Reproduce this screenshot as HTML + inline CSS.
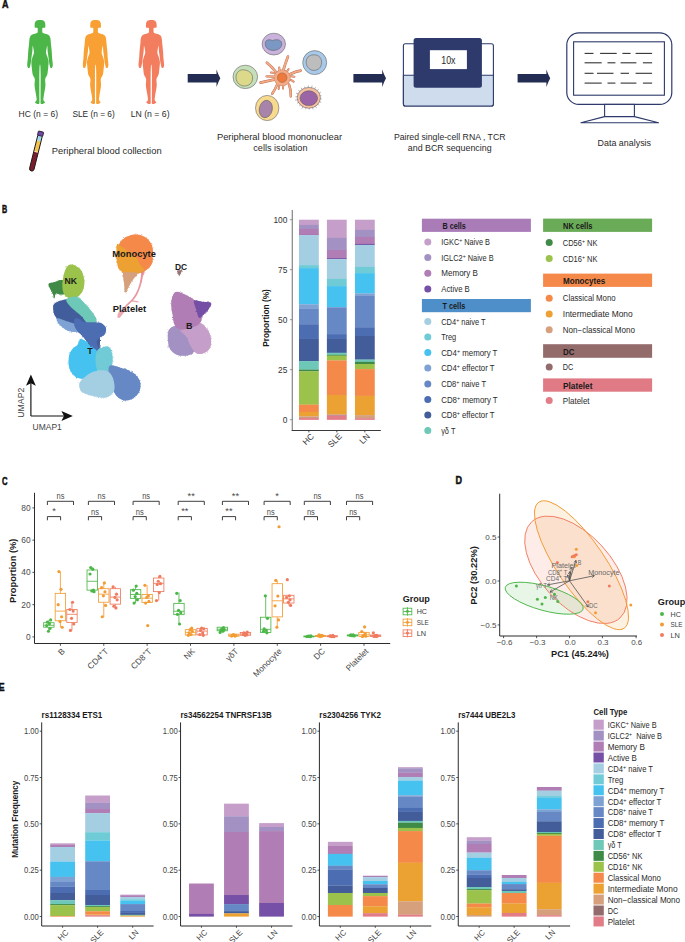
<!DOCTYPE html><html><head><meta charset="utf-8"><style>html,body{margin:0;padding:0;background:#fff;}svg{display:block;}</style></head><body>
<svg width="685" height="942" viewBox="0 0 685 942" font-family='"Liberation Sans", sans-serif'>
<rect width="685" height="942" fill="#fff"/>
<text x="2.00" y="8.00" font-size="10.5" font-weight="bold" textLength="6.50" lengthAdjust="spacingAndGlyphs" fill="#111" stroke="#111" stroke-width="0.5">A</text>
<path transform="translate(40.0,20)" d="M0.00,0.00 C0.96,0.00 2.45,0.12 3.20,0.50 C3.95,0.88 4.68,1.77 5.00,2.50 C5.32,3.23 5.33,4.64 5.35,5.40 C5.36,6.17 5.53,7.22 5.10,7.60 C4.67,7.97 2.92,7.54 2.50,7.90 C2.08,8.26 2.30,9.32 2.30,10.00 C2.30,10.68 2.08,11.83 2.50,12.40 C2.92,12.97 4.14,13.38 5.10,13.80 C6.06,14.22 8.11,14.54 8.90,15.20 C9.70,15.86 10.09,16.84 10.40,18.20 C10.71,19.56 10.80,22.30 11.00,24.30 C11.20,26.30 11.57,29.34 11.75,31.50 C11.93,33.66 12.04,36.72 12.20,38.70 C12.36,40.68 12.85,43.32 12.80,44.70 C12.76,46.08 12.28,47.49 11.90,47.90 C11.53,48.30 10.63,47.80 10.30,47.40 C9.97,46.99 9.88,45.94 9.70,45.20 C9.52,44.47 9.29,43.76 9.10,42.50 C8.90,41.24 8.62,38.60 8.40,36.80 C8.18,35.00 7.76,32.15 7.60,30.50 C7.43,28.85 7.48,25.95 7.30,25.80 C7.12,25.65 6.58,28.39 6.40,29.50 C6.22,30.61 5.95,32.11 6.10,33.20 C6.25,34.30 7.03,35.48 7.40,36.80 C7.78,38.12 8.48,40.39 8.60,42.00 C8.72,43.61 8.39,45.61 8.20,47.50 C8.00,49.39 7.75,52.88 7.30,54.60 C6.85,56.33 5.49,57.29 5.20,59.00 C4.92,60.71 5.61,63.48 5.40,66.00 C5.19,68.52 4.10,73.70 3.80,75.80 C3.50,77.90 3.22,78.98 3.40,80.00 C3.58,81.02 5.12,82.01 5.00,82.60 C4.88,83.19 3.25,83.78 2.60,83.90 C1.96,84.02 1.00,84.14 0.70,83.40 C0.40,82.67 0.61,83.26 0.60,79.00 C0.59,74.74 0.69,59.95 0.65,55.00 C0.61,50.05 0.45,47.53 0.35,46.00 C0.25,44.47 0.10,44.80 0.00,44.80 C-0.10,44.80 -0.25,44.47 -0.35,46.00 C-0.45,47.53 -0.61,50.05 -0.65,55.00 C-0.69,59.95 -0.59,74.74 -0.60,79.00 C-0.61,83.26 -0.40,82.67 -0.70,83.40 C-1.00,84.14 -1.96,84.02 -2.60,83.90 C-3.25,83.78 -4.88,83.19 -5.00,82.60 C-5.12,82.01 -3.58,81.02 -3.40,80.00 C-3.22,78.98 -3.50,77.90 -3.80,75.80 C-4.10,73.70 -5.19,68.52 -5.40,66.00 C-5.61,63.48 -4.92,60.71 -5.20,59.00 C-5.49,57.29 -6.85,56.33 -7.30,54.60 C-7.75,52.88 -8.00,49.39 -8.20,47.50 C-8.39,45.61 -8.72,43.61 -8.60,42.00 C-8.48,40.39 -7.78,38.12 -7.40,36.80 C-7.03,35.48 -6.25,34.30 -6.10,33.20 C-5.95,32.11 -6.22,30.61 -6.40,29.50 C-6.58,28.39 -7.12,25.65 -7.30,25.80 C-7.48,25.95 -7.43,28.85 -7.60,30.50 C-7.76,32.15 -8.18,35.00 -8.40,36.80 C-8.62,38.60 -8.90,41.24 -9.10,42.50 C-9.29,43.76 -9.52,44.47 -9.70,45.20 C-9.88,45.94 -9.97,46.99 -10.30,47.40 C-10.63,47.80 -11.53,48.30 -11.90,47.90 C-12.28,47.49 -12.76,46.08 -12.80,44.70 C-12.85,43.32 -12.36,40.68 -12.20,38.70 C-12.04,36.72 -11.93,33.66 -11.75,31.50 C-11.57,29.34 -11.20,26.30 -11.00,24.30 C-10.80,22.30 -10.71,19.56 -10.40,18.20 C-10.09,16.84 -9.70,15.86 -8.90,15.20 C-8.11,14.54 -6.06,14.22 -5.10,13.80 C-4.14,13.38 -2.92,12.97 -2.50,12.40 C-2.08,11.83 -2.30,10.68 -2.30,10.00 C-2.30,9.32 -2.08,8.26 -2.50,7.90 C-2.92,7.54 -4.67,7.97 -5.10,7.60 C-5.53,7.22 -5.36,6.17 -5.35,5.40 C-5.33,4.64 -5.32,3.23 -5.00,2.50 C-4.68,1.77 -3.95,0.88 -3.20,0.50 C-2.45,0.12 -0.96,0.00 0.00,0.00Z" fill="#4cb748"/>
<path transform="translate(95.6,20)" d="M0.00,0.00 C0.96,0.00 2.45,0.12 3.20,0.50 C3.95,0.88 4.68,1.77 5.00,2.50 C5.32,3.23 5.33,4.64 5.35,5.40 C5.36,6.17 5.53,7.22 5.10,7.60 C4.67,7.97 2.92,7.54 2.50,7.90 C2.08,8.26 2.30,9.32 2.30,10.00 C2.30,10.68 2.08,11.83 2.50,12.40 C2.92,12.97 4.14,13.38 5.10,13.80 C6.06,14.22 8.11,14.54 8.90,15.20 C9.70,15.86 10.09,16.84 10.40,18.20 C10.71,19.56 10.80,22.30 11.00,24.30 C11.20,26.30 11.57,29.34 11.75,31.50 C11.93,33.66 12.04,36.72 12.20,38.70 C12.36,40.68 12.85,43.32 12.80,44.70 C12.76,46.08 12.28,47.49 11.90,47.90 C11.53,48.30 10.63,47.80 10.30,47.40 C9.97,46.99 9.88,45.94 9.70,45.20 C9.52,44.47 9.29,43.76 9.10,42.50 C8.90,41.24 8.62,38.60 8.40,36.80 C8.18,35.00 7.76,32.15 7.60,30.50 C7.43,28.85 7.48,25.95 7.30,25.80 C7.12,25.65 6.58,28.39 6.40,29.50 C6.22,30.61 5.95,32.11 6.10,33.20 C6.25,34.30 7.03,35.48 7.40,36.80 C7.78,38.12 8.48,40.39 8.60,42.00 C8.72,43.61 8.39,45.61 8.20,47.50 C8.00,49.39 7.75,52.88 7.30,54.60 C6.85,56.33 5.49,57.29 5.20,59.00 C4.92,60.71 5.61,63.48 5.40,66.00 C5.19,68.52 4.10,73.70 3.80,75.80 C3.50,77.90 3.22,78.98 3.40,80.00 C3.58,81.02 5.12,82.01 5.00,82.60 C4.88,83.19 3.25,83.78 2.60,83.90 C1.96,84.02 1.00,84.14 0.70,83.40 C0.40,82.67 0.61,83.26 0.60,79.00 C0.59,74.74 0.69,59.95 0.65,55.00 C0.61,50.05 0.45,47.53 0.35,46.00 C0.25,44.47 0.10,44.80 0.00,44.80 C-0.10,44.80 -0.25,44.47 -0.35,46.00 C-0.45,47.53 -0.61,50.05 -0.65,55.00 C-0.69,59.95 -0.59,74.74 -0.60,79.00 C-0.61,83.26 -0.40,82.67 -0.70,83.40 C-1.00,84.14 -1.96,84.02 -2.60,83.90 C-3.25,83.78 -4.88,83.19 -5.00,82.60 C-5.12,82.01 -3.58,81.02 -3.40,80.00 C-3.22,78.98 -3.50,77.90 -3.80,75.80 C-4.10,73.70 -5.19,68.52 -5.40,66.00 C-5.61,63.48 -4.92,60.71 -5.20,59.00 C-5.49,57.29 -6.85,56.33 -7.30,54.60 C-7.75,52.88 -8.00,49.39 -8.20,47.50 C-8.39,45.61 -8.72,43.61 -8.60,42.00 C-8.48,40.39 -7.78,38.12 -7.40,36.80 C-7.03,35.48 -6.25,34.30 -6.10,33.20 C-5.95,32.11 -6.22,30.61 -6.40,29.50 C-6.58,28.39 -7.12,25.65 -7.30,25.80 C-7.48,25.95 -7.43,28.85 -7.60,30.50 C-7.76,32.15 -8.18,35.00 -8.40,36.80 C-8.62,38.60 -8.90,41.24 -9.10,42.50 C-9.29,43.76 -9.52,44.47 -9.70,45.20 C-9.88,45.94 -9.97,46.99 -10.30,47.40 C-10.63,47.80 -11.53,48.30 -11.90,47.90 C-12.28,47.49 -12.76,46.08 -12.80,44.70 C-12.85,43.32 -12.36,40.68 -12.20,38.70 C-12.04,36.72 -11.93,33.66 -11.75,31.50 C-11.57,29.34 -11.20,26.30 -11.00,24.30 C-10.80,22.30 -10.71,19.56 -10.40,18.20 C-10.09,16.84 -9.70,15.86 -8.90,15.20 C-8.11,14.54 -6.06,14.22 -5.10,13.80 C-4.14,13.38 -2.92,12.97 -2.50,12.40 C-2.08,11.83 -2.30,10.68 -2.30,10.00 C-2.30,9.32 -2.08,8.26 -2.50,7.90 C-2.92,7.54 -4.67,7.97 -5.10,7.60 C-5.53,7.22 -5.36,6.17 -5.35,5.40 C-5.33,4.64 -5.32,3.23 -5.00,2.50 C-4.68,1.77 -3.95,0.88 -3.20,0.50 C-2.45,0.12 -0.96,0.00 0.00,0.00Z" fill="#f8a033"/>
<path transform="translate(151.3,20)" d="M0.00,0.00 C0.96,0.00 2.45,0.12 3.20,0.50 C3.95,0.88 4.68,1.77 5.00,2.50 C5.32,3.23 5.33,4.64 5.35,5.40 C5.36,6.17 5.53,7.22 5.10,7.60 C4.67,7.97 2.92,7.54 2.50,7.90 C2.08,8.26 2.30,9.32 2.30,10.00 C2.30,10.68 2.08,11.83 2.50,12.40 C2.92,12.97 4.14,13.38 5.10,13.80 C6.06,14.22 8.11,14.54 8.90,15.20 C9.70,15.86 10.09,16.84 10.40,18.20 C10.71,19.56 10.80,22.30 11.00,24.30 C11.20,26.30 11.57,29.34 11.75,31.50 C11.93,33.66 12.04,36.72 12.20,38.70 C12.36,40.68 12.85,43.32 12.80,44.70 C12.76,46.08 12.28,47.49 11.90,47.90 C11.53,48.30 10.63,47.80 10.30,47.40 C9.97,46.99 9.88,45.94 9.70,45.20 C9.52,44.47 9.29,43.76 9.10,42.50 C8.90,41.24 8.62,38.60 8.40,36.80 C8.18,35.00 7.76,32.15 7.60,30.50 C7.43,28.85 7.48,25.95 7.30,25.80 C7.12,25.65 6.58,28.39 6.40,29.50 C6.22,30.61 5.95,32.11 6.10,33.20 C6.25,34.30 7.03,35.48 7.40,36.80 C7.78,38.12 8.48,40.39 8.60,42.00 C8.72,43.61 8.39,45.61 8.20,47.50 C8.00,49.39 7.75,52.88 7.30,54.60 C6.85,56.33 5.49,57.29 5.20,59.00 C4.92,60.71 5.61,63.48 5.40,66.00 C5.19,68.52 4.10,73.70 3.80,75.80 C3.50,77.90 3.22,78.98 3.40,80.00 C3.58,81.02 5.12,82.01 5.00,82.60 C4.88,83.19 3.25,83.78 2.60,83.90 C1.96,84.02 1.00,84.14 0.70,83.40 C0.40,82.67 0.61,83.26 0.60,79.00 C0.59,74.74 0.69,59.95 0.65,55.00 C0.61,50.05 0.45,47.53 0.35,46.00 C0.25,44.47 0.10,44.80 0.00,44.80 C-0.10,44.80 -0.25,44.47 -0.35,46.00 C-0.45,47.53 -0.61,50.05 -0.65,55.00 C-0.69,59.95 -0.59,74.74 -0.60,79.00 C-0.61,83.26 -0.40,82.67 -0.70,83.40 C-1.00,84.14 -1.96,84.02 -2.60,83.90 C-3.25,83.78 -4.88,83.19 -5.00,82.60 C-5.12,82.01 -3.58,81.02 -3.40,80.00 C-3.22,78.98 -3.50,77.90 -3.80,75.80 C-4.10,73.70 -5.19,68.52 -5.40,66.00 C-5.61,63.48 -4.92,60.71 -5.20,59.00 C-5.49,57.29 -6.85,56.33 -7.30,54.60 C-7.75,52.88 -8.00,49.39 -8.20,47.50 C-8.39,45.61 -8.72,43.61 -8.60,42.00 C-8.48,40.39 -7.78,38.12 -7.40,36.80 C-7.03,35.48 -6.25,34.30 -6.10,33.20 C-5.95,32.11 -6.22,30.61 -6.40,29.50 C-6.58,28.39 -7.12,25.65 -7.30,25.80 C-7.48,25.95 -7.43,28.85 -7.60,30.50 C-7.76,32.15 -8.18,35.00 -8.40,36.80 C-8.62,38.60 -8.90,41.24 -9.10,42.50 C-9.29,43.76 -9.52,44.47 -9.70,45.20 C-9.88,45.94 -9.97,46.99 -10.30,47.40 C-10.63,47.80 -11.53,48.30 -11.90,47.90 C-12.28,47.49 -12.76,46.08 -12.80,44.70 C-12.85,43.32 -12.36,40.68 -12.20,38.70 C-12.04,36.72 -11.93,33.66 -11.75,31.50 C-11.57,29.34 -11.20,26.30 -11.00,24.30 C-10.80,22.30 -10.71,19.56 -10.40,18.20 C-10.09,16.84 -9.70,15.86 -8.90,15.20 C-8.11,14.54 -6.06,14.22 -5.10,13.80 C-4.14,13.38 -2.92,12.97 -2.50,12.40 C-2.08,11.83 -2.30,10.68 -2.30,10.00 C-2.30,9.32 -2.08,8.26 -2.50,7.90 C-2.92,7.54 -4.67,7.97 -5.10,7.60 C-5.53,7.22 -5.36,6.17 -5.35,5.40 C-5.33,4.64 -5.32,3.23 -5.00,2.50 C-4.68,1.77 -3.95,0.88 -3.20,0.50 C-2.45,0.12 -0.96,0.00 0.00,0.00Z" fill="#f27d5f"/>
<text x="18.60" y="116.70" font-size="9.3" textLength="39.4" lengthAdjust="spacingAndGlyphs" fill="#2a2a2a" >HC (n = 6)</text>
<text x="72.40" y="116.70" font-size="9.3" textLength="42.4" lengthAdjust="spacingAndGlyphs" fill="#2a2a2a" >SLE (n = 6)</text>
<text x="130.70" y="116.70" font-size="9.3" textLength="38.9" lengthAdjust="spacingAndGlyphs" fill="#2a2a2a" >LN (n = 6)</text>
<g transform="translate(41.1,131.6) rotate(14)">
<path d="M-2.3,21 L2.3,21 L2.3,38.3 A2.3,2.3 0 0 1 -2.3,38.3 Z" fill="#7a1c2c"/>
<rect x="-2.3" y="9.6" width="4.6" height="11.4" fill="#f5c24f"/>
<rect x="-2.3" y="20.4" width="4.6" height="0.9" fill="#f4e9c8"/>
<rect x="-2.3" y="4.2" width="4.6" height="5.4" fill="#a9d5ea"/>
<rect x="-2.7" y="0" width="5.4" height="4.3" rx="0.6" fill="#7444ae" stroke="#1a1a1a" stroke-width="0.8"/>
<path d="M-2.3,4.3 L-2.3,38.3 A2.3,2.3 0 0 0 2.3,38.3 L2.3,4.3" fill="none" stroke="#1a1a1a" stroke-width="0.9"/>
</g>
<text x="51.80" y="154.00" font-size="9.3" textLength="109.8" lengthAdjust="spacingAndGlyphs" fill="#2a2a2a" >Peripheral blood collection</text>
<path d="M187.7,74 L216.5,74 L216.5,69.4 Q218.2,74.5 220.29999999999998,78.2 Q218.2,82 216.5,87.1 L216.5,82.5 L187.7,82.5 Z" fill="#232c52"/>
<path d="M353.4,74 L382.2,74 L382.2,69.4 Q383.9,74.5 386.0,78.2 Q383.9,82 382.2,87.1 L382.2,82.5 L353.4,82.5 Z" fill="#232c52"/>
<path d="M517.6,74 L546.4,74 L546.4,69.4 Q548.1,74.5 550.2,78.2 Q548.1,82 546.4,87.1 L546.4,82.5 L517.6,82.5 Z" fill="#232c52"/>
<ellipse cx="273.8" cy="44.1" rx="11.7" ry="10.9" fill="#c9b2dc" stroke="#5a5a5a" stroke-width="0.55"/>
<path d="M265.3,43.2 C265.5,39.5 269.5,39.0 272.5,40.6 C275.5,39.0 281.5,39.2 281.8,43.6 C282.0,48.0 277.5,50.6 273.0,50.4 C268.0,50.2 265.1,47.5 265.3,43.2 Z" fill="#7b98c4" stroke="#5a5a5a" stroke-width="0.55"/>
<circle cx="314.7" cy="62.6" r="12" fill="#a8c9e8" stroke="#5a5a5a" stroke-width="0.55"/>
<path d="M306.2,61.0 C306.8,56.5 310.5,54.6 314.6,54.8 C319.3,55.1 321.8,58.5 321.6,62.6 C321.4,67.5 318.2,70.4 313.8,70.4 C309.0,70.3 305.8,66.0 306.2,61.0 Z" fill="#bdbdbd" stroke="#5a5a5a" stroke-width="0.55"/>
<ellipse cx="245.3" cy="76.9" rx="12.3" ry="11.7" fill="#c4dfb9" stroke="#5a5a5a" stroke-width="0.55"/>
<path d="M236.0,76.5 C236.5,72.0 239.8,69.5 243.5,69.8 C248.5,70.2 252.6,72.8 252.6,78.0 C252.5,83.5 248.5,86.0 244.3,86.0 C239.0,85.8 235.6,81.5 236.0,76.5 Z" fill="#dcd98a" stroke="#5a5a5a" stroke-width="0.55"/>
<ellipse cx="267.2" cy="108" rx="11.7" ry="12.6" fill="#f7da8f" stroke="#5a5a5a" stroke-width="0.55"/>
<ellipse cx="265.8" cy="109" rx="6.5" ry="8.8" transform="rotate(12 265.8 109)" fill="#a884aa" stroke="#5a5a5a" stroke-width="0.55"/>
<ellipse cx="308.8" cy="97.8" rx="11.6" ry="10.4" fill="#f7c1a2" stroke="#5a5a5a" stroke-width="0.55"/>
<line x1="320.14" y1="98.82" x2="321.82" y2="98.99" stroke="#6a6a6a" stroke-width="0.5"/>
<line x1="319.36" y1="101.64" x2="321.27" y2="102.41" stroke="#6a6a6a" stroke-width="0.5"/>
<line x1="317.73" y1="104.14" x2="319.17" y2="105.29" stroke="#6a6a6a" stroke-width="0.5"/>
<line x1="315.37" y1="106.14" x2="316.59" y2="107.87" stroke="#6a6a6a" stroke-width="0.5"/>
<line x1="312.48" y1="107.45" x2="313.17" y2="109.49" stroke="#6a6a6a" stroke-width="0.5"/>
<line x1="309.29" y1="107.99" x2="309.35" y2="109.47" stroke="#6a6a6a" stroke-width="0.5"/>
<line x1="306.06" y1="107.70" x2="305.72" y2="109.08" stroke="#6a6a6a" stroke-width="0.5"/>
<line x1="303.05" y1="106.61" x2="301.84" y2="108.69" stroke="#6a6a6a" stroke-width="0.5"/>
<line x1="300.51" y1="104.80" x2="299.27" y2="105.98" stroke="#6a6a6a" stroke-width="0.5"/>
<line x1="298.64" y1="102.43" x2="297.14" y2="103.19" stroke="#6a6a6a" stroke-width="0.5"/>
<line x1="297.60" y1="99.68" x2="295.05" y2="100.16" stroke="#6a6a6a" stroke-width="0.5"/>
<line x1="297.46" y1="96.78" x2="295.50" y2="96.59" stroke="#6a6a6a" stroke-width="0.5"/>
<line x1="298.24" y1="93.96" x2="296.01" y2="93.06" stroke="#6a6a6a" stroke-width="0.5"/>
<line x1="299.87" y1="91.46" x2="298.33" y2="90.23" stroke="#6a6a6a" stroke-width="0.5"/>
<line x1="302.23" y1="89.46" x2="300.98" y2="87.69" stroke="#6a6a6a" stroke-width="0.5"/>
<line x1="305.12" y1="88.15" x2="304.61" y2="86.65" stroke="#6a6a6a" stroke-width="0.5"/>
<line x1="308.31" y1="87.61" x2="308.22" y2="85.45" stroke="#6a6a6a" stroke-width="0.5"/>
<line x1="311.54" y1="87.90" x2="312.13" y2="85.53" stroke="#6a6a6a" stroke-width="0.5"/>
<line x1="314.55" y1="88.99" x2="315.57" y2="87.24" stroke="#6a6a6a" stroke-width="0.5"/>
<line x1="317.09" y1="90.80" x2="318.75" y2="89.22" stroke="#6a6a6a" stroke-width="0.5"/>
<line x1="318.96" y1="93.17" x2="320.92" y2="92.17" stroke="#6a6a6a" stroke-width="0.5"/>
<line x1="320.00" y1="95.92" x2="321.46" y2="95.65" stroke="#6a6a6a" stroke-width="0.5"/>
<ellipse cx="308.8" cy="98.2" rx="8.8" ry="7.4" fill="#9a64a6" stroke="#5a5a5a" stroke-width="0.55"/>
<path d="M283.4,70 Q285.5,63 287.9,56.6" stroke="#b87055" stroke-width="2.7" stroke-linecap="round" fill="none"/>
<path d="M275.5,71.5 Q271,66 266.9,62.8" stroke="#b87055" stroke-width="2.7" stroke-linecap="round" fill="none"/>
<path d="M290.5,74 Q295.5,71.5 300.6,70.6" stroke="#b87055" stroke-width="2.7" stroke-linecap="round" fill="none"/>
<path d="M274,79.6 Q267,81 260.6,82.6" stroke="#b87055" stroke-width="2.7" stroke-linecap="round" fill="none"/>
<path d="M274.5,76.6 L266.6,76.3" stroke="#b87055" stroke-width="2.3" stroke-linecap="round" fill="none"/>
<path d="M277.2,84.5 Q274.8,90 272.2,93.8" stroke="#b87055" stroke-width="2.5" stroke-linecap="round" fill="none"/>
<path d="M289,84.5 Q291.3,90 290.8,96.4" stroke="#b87055" stroke-width="2.5" stroke-linecap="round" fill="none"/>
<path d="M279.6,70.5 L279.2,67.4" stroke="#b87055" stroke-width="2.0" stroke-linecap="round" fill="none"/>
<path d="M287.2,71.2 L288.6,69.0" stroke="#b87055" stroke-width="2.0" stroke-linecap="round" fill="none"/>
<path d="M290.8,79.8 L293.6,81.6" stroke="#b87055" stroke-width="2.0" stroke-linecap="round" fill="none"/>
<path d="M291.2,76.2 L294.4,76.8" stroke="#b87055" stroke-width="2.0" stroke-linecap="round" fill="none"/>
<path d="M275.2,73.2 L271.0,72.6" stroke="#b87055" stroke-width="2.0" stroke-linecap="round" fill="none"/>
<path d="M279.2,86.0 L278.6,89.0" stroke="#b87055" stroke-width="2.0" stroke-linecap="round" fill="none"/>
<path d="M283.2,86.0 L283.0,88.6" stroke="#b87055" stroke-width="2.0" stroke-linecap="round" fill="none"/>
<circle cx="282.2" cy="77.8" r="8.3" fill="#b87055"/>
<path d="M283.4,70 Q285.5,63 287.9,56.6" stroke="#f4ab85" stroke-width="1.9" stroke-linecap="round" fill="none"/>
<path d="M275.5,71.5 Q271,66 266.9,62.8" stroke="#f4ab85" stroke-width="1.9" stroke-linecap="round" fill="none"/>
<path d="M290.5,74 Q295.5,71.5 300.6,70.6" stroke="#f4ab85" stroke-width="1.9" stroke-linecap="round" fill="none"/>
<path d="M274,79.6 Q267,81 260.6,82.6" stroke="#f4ab85" stroke-width="1.9" stroke-linecap="round" fill="none"/>
<path d="M274.5,76.6 L266.6,76.3" stroke="#f4ab85" stroke-width="1.5" stroke-linecap="round" fill="none"/>
<path d="M277.2,84.5 Q274.8,90 272.2,93.8" stroke="#f4ab85" stroke-width="1.7" stroke-linecap="round" fill="none"/>
<path d="M289,84.5 Q291.3,90 290.8,96.4" stroke="#f4ab85" stroke-width="1.7" stroke-linecap="round" fill="none"/>
<path d="M279.6,70.5 L279.2,67.4" stroke="#f4ab85" stroke-width="1.2" stroke-linecap="round" fill="none"/>
<path d="M287.2,71.2 L288.6,69.0" stroke="#f4ab85" stroke-width="1.2" stroke-linecap="round" fill="none"/>
<path d="M290.8,79.8 L293.6,81.6" stroke="#f4ab85" stroke-width="1.2" stroke-linecap="round" fill="none"/>
<path d="M291.2,76.2 L294.4,76.8" stroke="#f4ab85" stroke-width="1.2" stroke-linecap="round" fill="none"/>
<path d="M275.2,73.2 L271.0,72.6" stroke="#f4ab85" stroke-width="1.2" stroke-linecap="round" fill="none"/>
<path d="M279.2,86.0 L278.6,89.0" stroke="#f4ab85" stroke-width="1.2" stroke-linecap="round" fill="none"/>
<path d="M283.2,86.0 L283.0,88.6" stroke="#f4ab85" stroke-width="1.2" stroke-linecap="round" fill="none"/>
<circle cx="282.2" cy="77.8" r="7.9" fill="#f4ab85"/>
<circle cx="282.2" cy="77.7" r="4.8" fill="#ec7a3c" stroke="#8a5a40" stroke-width="0.45"/>
<text x="279.50" y="140.20" font-size="9.3" text-anchor="middle" textLength="125.2" lengthAdjust="spacingAndGlyphs" fill="#2a2a2a" >Peripheral blood mononuclear</text>
<text x="280.40" y="151.20" font-size="9.3" text-anchor="middle" textLength="54.2" lengthAdjust="spacingAndGlyphs" fill="#2a2a2a" >cells isolation</text>
<rect x="403.4" y="43.8" width="90" height="62.2" rx="2" fill="#fff" stroke="#2d3a6b" stroke-width="1.1"/>
<path d="M403.4,75.2 L493.4,75.2 L493.4,104 Q493.4,106 491.4,106 L405.4,106 Q403.4,106 403.4,104 Z" fill="#cfdcee" stroke="#2d3a6b" stroke-width="1.1"/>
<rect x="413.6" y="37.9" width="68.3" height="49.9" rx="2.5" fill="#2d3a6b"/>
<rect x="429.9" y="50.2" width="37" height="18.9" fill="#fff"/>
<text x="448.40" y="63.60" font-size="10.0" text-anchor="middle" textLength="14.3" lengthAdjust="spacingAndGlyphs" fill="#2a2a2a" >10x</text>
<text x="449.70" y="140.30" font-size="9.3" text-anchor="middle" textLength="111.6" lengthAdjust="spacingAndGlyphs" fill="#2a2a2a" >Paired single-cell RNA , TCR</text>
<text x="449.70" y="151.20" font-size="9.3" text-anchor="middle" textLength="83.8" lengthAdjust="spacingAndGlyphs" fill="#2a2a2a" >and BCR sequencing</text>
<rect x="566.8" y="32.8" width="105" height="71.6" rx="12" fill="#fff" stroke="#2d3a6b" stroke-width="1.2"/>
<rect x="573.6" y="41.8" width="90.8" height="53.4" fill="#fff" stroke="#2d3a6b" stroke-width="1.1"/>
<rect x="604.6" y="104.4" width="29.8" height="12.2" fill="#fff" stroke="#2d3a6b" stroke-width="1.1"/>
<path d="M604.6,116.6 L634.4,116.6 L658.5,122.8 L580.9,122.8 Z" fill="#fff" stroke="#2d3a6b" stroke-width="1.1" stroke-linejoin="round"/>
<line x1="584.6" y1="53.4" x2="593.5" y2="53.4" stroke="#333" stroke-width="1.1"/>
<line x1="600.1" y1="53.4" x2="616.7" y2="53.4" stroke="#333" stroke-width="1.1"/>
<line x1="622.4" y1="53.4" x2="630.6" y2="53.4" stroke="#333" stroke-width="1.1"/>
<line x1="635.6" y1="53.4" x2="652.1" y2="53.4" stroke="#333" stroke-width="1.1"/>
<line x1="584.6" y1="62.8" x2="601.7" y2="62.8" stroke="#333" stroke-width="1.1"/>
<line x1="607.5" y1="62.8" x2="615.4" y2="62.8" stroke="#333" stroke-width="1.1"/>
<line x1="620.6" y1="62.8" x2="636.4" y2="62.8" stroke="#333" stroke-width="1.1"/>
<line x1="642.9" y1="62.8" x2="652.1" y2="62.8" stroke="#333" stroke-width="1.1"/>
<line x1="584.6" y1="73.3" x2="593.5" y2="73.3" stroke="#333" stroke-width="1.1"/>
<line x1="597.0" y1="73.3" x2="613.5" y2="73.3" stroke="#333" stroke-width="1.1"/>
<line x1="620.6" y1="73.3" x2="629.0" y2="73.3" stroke="#333" stroke-width="1.1"/>
<line x1="635.6" y1="73.3" x2="652.1" y2="73.3" stroke="#333" stroke-width="1.1"/>
<line x1="584.6" y1="83.1" x2="601.7" y2="83.1" stroke="#333" stroke-width="1.1"/>
<line x1="607.5" y1="83.1" x2="615.4" y2="83.1" stroke="#333" stroke-width="1.1"/>
<line x1="620.6" y1="83.1" x2="636.4" y2="83.1" stroke="#333" stroke-width="1.1"/>
<line x1="642.9" y1="83.1" x2="652.1" y2="83.1" stroke="#333" stroke-width="1.1"/>
<text x="624.30" y="145.60" font-size="9.3" text-anchor="middle" textLength="53.5" lengthAdjust="spacingAndGlyphs" fill="#2a2a2a" >Data analysis</text>
<text x="2.00" y="212.90" font-size="10.5" font-weight="bold" textLength="5.20" lengthAdjust="spacingAndGlyphs" fill="#111" stroke="#111" stroke-width="0.5">B</text>
<defs>
<filter id="rough" x="-30%" y="-30%" width="160%" height="160%">
<feTurbulence type="fractalNoise" baseFrequency="1.8" numOctaves="2" seed="4" result="n"/>
<feDisplacementMap in="SourceGraphic" in2="n" scale="1.8" xChannelSelector="R" yChannelSelector="G" result="d"/>
<feGaussianBlur in="d" stdDeviation="0.6"/>
</filter>
<filter id="fuzz" x="-30%" y="-30%" width="160%" height="160%">
<feTurbulence type="fractalNoise" baseFrequency="2.2" numOctaves="1" seed="11" result="n"/>
<feDisplacementMap in="SourceGraphic" in2="n" scale="5" xChannelSelector="R" yChannelSelector="G"/>
</filter>
</defs>
<g filter="url(#fuzz)" opacity="0.55">
<path d="M48.60,283.90 C49.30,282.72 52.55,282.75 54.60,282.10 C56.65,281.45 59.00,280.18 60.90,280.00 C62.80,279.82 65.07,279.00 66.00,281.00 C66.93,283.00 67.35,289.75 66.50,292.00 C65.65,294.25 62.63,294.23 60.90,294.50 C59.17,294.77 57.22,292.93 56.10,293.60 C54.98,294.27 54.75,298.52 54.20,298.50 C53.65,298.48 53.43,295.05 52.80,293.50 C52.17,291.95 51.10,290.80 50.40,289.20 C49.70,287.60 47.90,285.08 48.60,283.90Z" fill="#3f8a46" fill-opacity="1.0"/>
<path d="M71.30,264.60 C73.42,264.73 77.18,266.45 79.20,268.30 C81.22,270.15 82.55,273.13 83.40,275.70 C84.25,278.27 84.43,281.18 84.30,283.70 C84.17,286.22 83.68,288.62 82.60,290.80 C81.52,292.98 79.82,295.50 77.80,296.80 C75.78,298.10 72.78,299.03 70.50,298.60 C68.22,298.17 65.47,296.42 64.10,294.20 C62.73,291.98 62.38,288.38 62.30,285.30 C62.22,282.22 62.90,278.67 63.60,275.70 C64.30,272.73 65.22,269.35 66.50,267.50 C67.78,265.65 69.18,264.47 71.30,264.60Z" fill="#9bc24b" fill-opacity="1.0"/>
<path d="M54.20,304.00 C55.48,302.58 58.35,301.33 60.90,300.60 C63.45,299.87 66.73,298.62 69.50,299.60 C72.27,300.58 74.62,304.02 77.50,306.50 C80.38,308.98 84.13,312.08 86.80,314.50 C89.47,316.92 91.55,318.45 93.50,321.00 C95.45,323.55 97.42,326.47 98.50,329.80 C99.58,333.13 100.00,337.05 100.00,341.00 C100.00,344.95 99.70,351.25 98.50,353.50 C97.30,355.75 94.63,356.25 92.80,354.50 C90.97,352.75 89.43,346.33 87.50,343.00 C85.57,339.67 83.77,337.00 81.20,334.50 C78.63,332.00 75.48,330.17 72.10,328.00 C68.72,325.83 63.75,323.50 60.90,321.50 C58.05,319.50 56.28,318.07 55.00,316.00 C53.72,313.93 53.33,311.10 53.20,309.10 C53.07,307.10 52.92,305.42 54.20,304.00Z" fill="#435d9b" fill-opacity="1.0"/>
<path d="M67.50,298.40 C69.20,297.53 74.05,295.87 77.00,296.80 C79.95,297.73 82.50,301.22 85.20,304.00 C87.90,306.78 91.30,310.78 93.20,313.50 C95.10,316.22 96.57,318.25 96.60,320.30 C96.63,322.35 94.83,325.15 93.40,325.80 C91.97,326.45 90.03,325.83 88.00,324.20 C85.97,322.57 83.85,318.67 81.20,316.00 C78.55,313.33 74.50,310.53 72.10,308.20 C69.70,305.87 67.57,303.63 66.80,302.00 C66.03,300.37 65.80,299.27 67.50,298.40Z" fill="#6ec8b8" fill-opacity="1.0"/>
<path d="M57.20,318.40 C58.58,317.98 64.03,320.43 67.30,321.50 C70.57,322.57 74.32,323.42 76.80,324.80 C79.28,326.18 82.17,328.60 82.20,329.80 C82.23,331.00 79.48,331.88 77.00,332.00 C74.52,332.12 70.30,331.83 67.30,330.50 C64.30,329.17 60.68,326.02 59.00,324.00 C57.32,321.98 55.82,318.82 57.20,318.40Z" fill="#7ea2d3" fill-opacity="1.0"/>
<path d="M76.10,317.90 C77.90,317.63 82.02,321.18 84.80,321.90 C87.58,322.62 90.15,322.02 92.80,322.20 C95.45,322.38 98.53,322.12 100.70,323.00 C102.87,323.88 105.08,325.67 105.80,327.50 C106.52,329.33 105.97,332.33 105.00,334.00 C104.03,335.67 101.42,336.17 100.00,337.50 C98.58,338.83 96.70,340.00 96.50,342.00 C96.30,344.00 99.15,347.92 98.80,349.50 C98.45,351.08 96.00,352.33 94.40,351.50 C92.80,350.67 91.10,347.00 89.20,344.50 C87.30,342.00 85.12,338.92 83.00,336.50 C80.88,334.08 78.00,332.17 76.50,330.00 C75.00,327.83 74.07,325.52 74.00,323.50 C73.93,321.48 74.30,318.17 76.10,317.90Z" fill="#4d6db3" fill-opacity="1.0"/>
<path d="M80.50,339.00 C81.67,338.92 84.25,340.25 86.00,341.50 C87.75,342.75 89.25,345.00 91.00,346.50 C92.75,348.00 95.13,348.58 96.50,350.50 C97.87,352.42 98.92,355.08 99.20,358.00 C99.48,360.92 99.23,365.03 98.20,368.00 C97.17,370.97 95.37,374.00 93.00,375.80 C90.63,377.60 87.00,378.73 84.00,378.80 C81.00,378.87 77.45,378.00 75.00,376.20 C72.55,374.40 70.30,371.37 69.30,368.00 C68.30,364.63 68.47,359.17 69.00,356.00 C69.53,352.83 71.17,350.75 72.50,349.00 C73.83,347.25 75.92,346.67 77.00,345.50 C78.08,344.33 78.42,343.08 79.00,342.00 C79.58,340.92 79.33,339.08 80.50,339.00Z" fill="#45c2ef" fill-opacity="1.0"/>
<path d="M98.00,349.50 C100.20,347.30 106.27,345.57 108.70,346.80 C111.13,348.03 112.18,353.28 112.60,356.90 C113.02,360.52 112.30,365.65 111.20,368.50 C110.10,371.35 108.20,373.50 106.00,374.00 C103.80,374.50 99.75,373.83 98.00,371.50 C96.25,369.17 95.50,363.67 95.50,360.00 C95.50,356.33 95.80,351.70 98.00,349.50Z" fill="#6fcbd6" fill-opacity="1.0"/>
<path d="M109.50,366.00 C111.22,364.27 115.92,366.53 119.80,367.60 C123.68,368.67 129.47,370.20 132.80,372.40 C136.13,374.60 138.63,377.77 139.80,380.80 C140.97,383.83 140.67,387.87 139.80,390.60 C138.93,393.33 136.87,395.53 134.60,397.20 C132.33,398.87 129.00,400.60 126.20,400.60 C123.40,400.60 120.08,399.13 117.80,397.20 C115.52,395.27 113.88,392.20 112.50,389.00 C111.12,385.80 110.00,381.83 109.50,378.00 C109.00,374.17 107.78,367.73 109.50,366.00Z" fill="#6689c5" fill-opacity="1.0"/>
<path d="M81.00,380.50 C83.17,377.97 88.42,373.67 92.50,372.00 C96.58,370.33 102.17,369.67 105.50,370.50 C108.83,371.33 111.05,373.68 112.50,377.00 C113.95,380.32 115.28,387.00 114.20,390.40 C113.12,393.80 109.57,396.47 106.00,397.40 C102.43,398.33 96.63,396.82 92.80,396.00 C88.97,395.18 85.22,393.97 83.00,392.50 C80.78,391.03 79.83,389.20 79.50,387.20 C79.17,385.20 78.83,383.03 81.00,380.50Z" fill="#a4cfe3" fill-opacity="1.0"/>
<path d="M134.30,234.60 C137.72,234.28 141.30,235.10 144.10,236.60 C146.90,238.10 149.60,240.97 151.10,243.60 C152.60,246.23 152.93,249.13 153.10,252.40 C153.27,255.67 153.08,260.40 152.10,263.20 C151.12,266.00 148.87,267.70 147.20,269.20 C145.53,270.70 144.25,271.38 142.10,272.20 C139.95,273.02 136.90,273.78 134.30,274.10 C131.70,274.42 128.97,274.92 126.50,274.10 C124.03,273.28 121.08,271.35 119.50,269.20 C117.92,267.05 117.50,263.83 117.00,261.20 C116.50,258.57 116.25,256.00 116.50,253.40 C116.75,250.80 117.32,248.08 118.50,245.60 C119.68,243.12 120.97,240.33 123.60,238.50 C126.23,236.67 130.88,234.92 134.30,234.60Z" fill="#f4894a" fill-opacity="1.0"/>
<path d="M117.20,244.20 C118.03,243.24 120.38,245.94 122.00,247.00 C123.62,248.06 126.20,250.03 128.00,251.30 C129.80,252.58 132.56,254.27 134.00,255.50 C135.44,256.73 136.73,258.23 137.60,259.50 C138.47,260.77 138.87,262.45 139.80,264.00 C140.73,265.55 143.46,268.57 143.80,269.80 C144.15,271.03 143.53,271.56 142.10,272.20 C140.67,272.84 136.64,273.81 134.30,274.10 C131.96,274.39 128.72,274.84 126.50,274.10 C124.28,273.37 120.92,271.13 119.50,269.20 C118.08,267.26 117.45,263.57 117.00,261.20 C116.55,258.83 116.47,255.95 116.50,253.40 C116.53,250.85 116.38,245.16 117.20,244.20Z" fill="#eca133" fill-opacity="1.0"/>
<path d="M123.20,273.00 C123.97,271.44 128.08,272.26 130.00,272.30 C131.92,272.34 137.44,272.01 137.60,273.30 C137.76,274.59 132.84,279.40 131.20,282.00 C129.56,284.60 126.23,292.53 125.30,292.80 C124.37,293.07 124.48,286.64 124.20,284.00 C123.92,281.36 122.43,274.56 123.20,273.00Z" fill="#d6a07d" fill-opacity="1.0"/>
<path d="M176.8,270.6 L182.6,270.0 L179.2,276.2 Z" fill="#946b6c" opacity="0.9"/>
<path d="M169.60,329.00 C171.50,327.05 176.05,324.75 179.20,325.50 C182.35,326.25 185.93,330.18 188.50,333.50 C191.07,336.82 193.75,342.18 194.60,345.40 C195.45,348.62 195.20,351.07 193.60,352.80 C192.00,354.53 187.98,355.57 185.00,355.80 C182.02,356.03 178.27,355.50 175.70,354.20 C173.13,352.90 170.92,350.83 169.60,348.00 C168.28,345.17 167.80,340.37 167.80,337.20 C167.80,334.03 167.70,330.95 169.60,329.00Z" fill="#a391c4" fill-opacity="1.0"/>
<path d="M181.00,322.50 C184.17,321.25 194.57,321.25 199.00,322.50 C203.43,323.75 205.60,327.35 207.60,330.00 C209.60,332.65 210.60,335.42 211.00,338.40 C211.40,341.38 211.17,345.48 210.00,347.90 C208.83,350.32 206.22,351.97 204.00,352.90 C201.78,353.83 198.93,354.65 196.70,353.50 C194.47,352.35 192.30,348.75 190.60,346.00 C188.90,343.25 188.27,339.67 186.50,337.00 C184.73,334.33 180.92,332.42 180.00,330.00 C179.08,327.58 177.83,323.75 181.00,322.50Z" fill="#c59fc9" fill-opacity="1.0"/>
<path d="M176.90,291.80 C178.95,291.80 182.52,293.33 185.50,294.80 C188.48,296.27 192.47,298.00 194.80,300.60 C197.13,303.20 198.33,307.42 199.50,310.40 C200.67,313.38 202.05,316.07 201.80,318.50 C201.55,320.93 200.30,323.33 198.00,325.00 C195.70,326.67 191.00,327.75 188.00,328.50 C185.00,329.25 182.25,330.17 180.00,329.50 C177.75,328.83 175.73,326.92 174.50,324.50 C173.27,322.08 173.15,318.52 172.60,315.00 C172.05,311.48 171.10,306.77 171.20,303.40 C171.30,300.03 172.25,296.73 173.20,294.80 C174.15,292.87 174.85,291.80 176.90,291.80Z" fill="#b07db4" fill-opacity="1.0"/>
<path d="M194.00,300.60 C195.03,299.17 199.77,301.40 202.60,301.80 C205.43,302.20 210.00,301.77 211.00,303.00 C212.00,304.23 209.97,307.13 208.60,309.20 C207.23,311.27 204.37,313.97 202.80,315.40 C201.23,316.83 200.27,318.63 199.20,317.80 C198.13,316.97 197.27,313.27 196.40,310.40 C195.53,307.53 192.97,302.03 194.00,300.60Z" fill="#7550a6" fill-opacity="1.0"/>
</g>
<g filter="url(#rough)">
<path d="M48.60,283.90 C49.30,282.72 52.55,282.75 54.60,282.10 C56.65,281.45 59.00,280.18 60.90,280.00 C62.80,279.82 65.07,279.00 66.00,281.00 C66.93,283.00 67.35,289.75 66.50,292.00 C65.65,294.25 62.63,294.23 60.90,294.50 C59.17,294.77 57.22,292.93 56.10,293.60 C54.98,294.27 54.75,298.52 54.20,298.50 C53.65,298.48 53.43,295.05 52.80,293.50 C52.17,291.95 51.10,290.80 50.40,289.20 C49.70,287.60 47.90,285.08 48.60,283.90Z" fill="#3f8a46" fill-opacity="1.0"/>
<path d="M71.30,264.60 C73.42,264.73 77.18,266.45 79.20,268.30 C81.22,270.15 82.55,273.13 83.40,275.70 C84.25,278.27 84.43,281.18 84.30,283.70 C84.17,286.22 83.68,288.62 82.60,290.80 C81.52,292.98 79.82,295.50 77.80,296.80 C75.78,298.10 72.78,299.03 70.50,298.60 C68.22,298.17 65.47,296.42 64.10,294.20 C62.73,291.98 62.38,288.38 62.30,285.30 C62.22,282.22 62.90,278.67 63.60,275.70 C64.30,272.73 65.22,269.35 66.50,267.50 C67.78,265.65 69.18,264.47 71.30,264.60Z" fill="#9bc24b" fill-opacity="1.0"/>
<path d="M54.20,304.00 C55.48,302.58 58.35,301.33 60.90,300.60 C63.45,299.87 66.73,298.62 69.50,299.60 C72.27,300.58 74.62,304.02 77.50,306.50 C80.38,308.98 84.13,312.08 86.80,314.50 C89.47,316.92 91.55,318.45 93.50,321.00 C95.45,323.55 97.42,326.47 98.50,329.80 C99.58,333.13 100.00,337.05 100.00,341.00 C100.00,344.95 99.70,351.25 98.50,353.50 C97.30,355.75 94.63,356.25 92.80,354.50 C90.97,352.75 89.43,346.33 87.50,343.00 C85.57,339.67 83.77,337.00 81.20,334.50 C78.63,332.00 75.48,330.17 72.10,328.00 C68.72,325.83 63.75,323.50 60.90,321.50 C58.05,319.50 56.28,318.07 55.00,316.00 C53.72,313.93 53.33,311.10 53.20,309.10 C53.07,307.10 52.92,305.42 54.20,304.00Z" fill="#435d9b" fill-opacity="1.0"/>
<path d="M67.50,298.40 C69.20,297.53 74.05,295.87 77.00,296.80 C79.95,297.73 82.50,301.22 85.20,304.00 C87.90,306.78 91.30,310.78 93.20,313.50 C95.10,316.22 96.57,318.25 96.60,320.30 C96.63,322.35 94.83,325.15 93.40,325.80 C91.97,326.45 90.03,325.83 88.00,324.20 C85.97,322.57 83.85,318.67 81.20,316.00 C78.55,313.33 74.50,310.53 72.10,308.20 C69.70,305.87 67.57,303.63 66.80,302.00 C66.03,300.37 65.80,299.27 67.50,298.40Z" fill="#6ec8b8" fill-opacity="1.0"/>
<path d="M57.20,318.40 C58.58,317.98 64.03,320.43 67.30,321.50 C70.57,322.57 74.32,323.42 76.80,324.80 C79.28,326.18 82.17,328.60 82.20,329.80 C82.23,331.00 79.48,331.88 77.00,332.00 C74.52,332.12 70.30,331.83 67.30,330.50 C64.30,329.17 60.68,326.02 59.00,324.00 C57.32,321.98 55.82,318.82 57.20,318.40Z" fill="#7ea2d3" fill-opacity="1.0"/>
<path d="M76.10,317.90 C77.90,317.63 82.02,321.18 84.80,321.90 C87.58,322.62 90.15,322.02 92.80,322.20 C95.45,322.38 98.53,322.12 100.70,323.00 C102.87,323.88 105.08,325.67 105.80,327.50 C106.52,329.33 105.97,332.33 105.00,334.00 C104.03,335.67 101.42,336.17 100.00,337.50 C98.58,338.83 96.70,340.00 96.50,342.00 C96.30,344.00 99.15,347.92 98.80,349.50 C98.45,351.08 96.00,352.33 94.40,351.50 C92.80,350.67 91.10,347.00 89.20,344.50 C87.30,342.00 85.12,338.92 83.00,336.50 C80.88,334.08 78.00,332.17 76.50,330.00 C75.00,327.83 74.07,325.52 74.00,323.50 C73.93,321.48 74.30,318.17 76.10,317.90Z" fill="#4d6db3" fill-opacity="1.0"/>
<path d="M80.50,339.00 C81.67,338.92 84.25,340.25 86.00,341.50 C87.75,342.75 89.25,345.00 91.00,346.50 C92.75,348.00 95.13,348.58 96.50,350.50 C97.87,352.42 98.92,355.08 99.20,358.00 C99.48,360.92 99.23,365.03 98.20,368.00 C97.17,370.97 95.37,374.00 93.00,375.80 C90.63,377.60 87.00,378.73 84.00,378.80 C81.00,378.87 77.45,378.00 75.00,376.20 C72.55,374.40 70.30,371.37 69.30,368.00 C68.30,364.63 68.47,359.17 69.00,356.00 C69.53,352.83 71.17,350.75 72.50,349.00 C73.83,347.25 75.92,346.67 77.00,345.50 C78.08,344.33 78.42,343.08 79.00,342.00 C79.58,340.92 79.33,339.08 80.50,339.00Z" fill="#45c2ef" fill-opacity="1.0"/>
<path d="M98.00,349.50 C100.20,347.30 106.27,345.57 108.70,346.80 C111.13,348.03 112.18,353.28 112.60,356.90 C113.02,360.52 112.30,365.65 111.20,368.50 C110.10,371.35 108.20,373.50 106.00,374.00 C103.80,374.50 99.75,373.83 98.00,371.50 C96.25,369.17 95.50,363.67 95.50,360.00 C95.50,356.33 95.80,351.70 98.00,349.50Z" fill="#6fcbd6" fill-opacity="1.0"/>
<path d="M109.50,366.00 C111.22,364.27 115.92,366.53 119.80,367.60 C123.68,368.67 129.47,370.20 132.80,372.40 C136.13,374.60 138.63,377.77 139.80,380.80 C140.97,383.83 140.67,387.87 139.80,390.60 C138.93,393.33 136.87,395.53 134.60,397.20 C132.33,398.87 129.00,400.60 126.20,400.60 C123.40,400.60 120.08,399.13 117.80,397.20 C115.52,395.27 113.88,392.20 112.50,389.00 C111.12,385.80 110.00,381.83 109.50,378.00 C109.00,374.17 107.78,367.73 109.50,366.00Z" fill="#6689c5" fill-opacity="1.0"/>
<path d="M81.00,380.50 C83.17,377.97 88.42,373.67 92.50,372.00 C96.58,370.33 102.17,369.67 105.50,370.50 C108.83,371.33 111.05,373.68 112.50,377.00 C113.95,380.32 115.28,387.00 114.20,390.40 C113.12,393.80 109.57,396.47 106.00,397.40 C102.43,398.33 96.63,396.82 92.80,396.00 C88.97,395.18 85.22,393.97 83.00,392.50 C80.78,391.03 79.83,389.20 79.50,387.20 C79.17,385.20 78.83,383.03 81.00,380.50Z" fill="#a4cfe3" fill-opacity="1.0"/>
<path d="M134.30,234.60 C137.72,234.28 141.30,235.10 144.10,236.60 C146.90,238.10 149.60,240.97 151.10,243.60 C152.60,246.23 152.93,249.13 153.10,252.40 C153.27,255.67 153.08,260.40 152.10,263.20 C151.12,266.00 148.87,267.70 147.20,269.20 C145.53,270.70 144.25,271.38 142.10,272.20 C139.95,273.02 136.90,273.78 134.30,274.10 C131.70,274.42 128.97,274.92 126.50,274.10 C124.03,273.28 121.08,271.35 119.50,269.20 C117.92,267.05 117.50,263.83 117.00,261.20 C116.50,258.57 116.25,256.00 116.50,253.40 C116.75,250.80 117.32,248.08 118.50,245.60 C119.68,243.12 120.97,240.33 123.60,238.50 C126.23,236.67 130.88,234.92 134.30,234.60Z" fill="#f4894a" fill-opacity="1.0"/>
<path d="M117.20,244.20 C118.03,243.24 120.38,245.94 122.00,247.00 C123.62,248.06 126.20,250.03 128.00,251.30 C129.80,252.58 132.56,254.27 134.00,255.50 C135.44,256.73 136.73,258.23 137.60,259.50 C138.47,260.77 138.87,262.45 139.80,264.00 C140.73,265.55 143.46,268.57 143.80,269.80 C144.15,271.03 143.53,271.56 142.10,272.20 C140.67,272.84 136.64,273.81 134.30,274.10 C131.96,274.39 128.72,274.84 126.50,274.10 C124.28,273.37 120.92,271.13 119.50,269.20 C118.08,267.26 117.45,263.57 117.00,261.20 C116.55,258.83 116.47,255.95 116.50,253.40 C116.53,250.85 116.38,245.16 117.20,244.20Z" fill="#eca133" fill-opacity="1.0"/>
<path d="M123.20,273.00 C123.97,271.44 128.08,272.26 130.00,272.30 C131.92,272.34 137.44,272.01 137.60,273.30 C137.76,274.59 132.84,279.40 131.20,282.00 C129.56,284.60 126.23,292.53 125.30,292.80 C124.37,293.07 124.48,286.64 124.20,284.00 C123.92,281.36 122.43,274.56 123.20,273.00Z" fill="#d6a07d" fill-opacity="1.0"/>
<path d="M176.8,270.6 L182.6,270.0 L179.2,276.2 Z" fill="#946b6c" opacity="0.9"/>
<path d="M169.60,329.00 C171.50,327.05 176.05,324.75 179.20,325.50 C182.35,326.25 185.93,330.18 188.50,333.50 C191.07,336.82 193.75,342.18 194.60,345.40 C195.45,348.62 195.20,351.07 193.60,352.80 C192.00,354.53 187.98,355.57 185.00,355.80 C182.02,356.03 178.27,355.50 175.70,354.20 C173.13,352.90 170.92,350.83 169.60,348.00 C168.28,345.17 167.80,340.37 167.80,337.20 C167.80,334.03 167.70,330.95 169.60,329.00Z" fill="#a391c4" fill-opacity="1.0"/>
<path d="M181.00,322.50 C184.17,321.25 194.57,321.25 199.00,322.50 C203.43,323.75 205.60,327.35 207.60,330.00 C209.60,332.65 210.60,335.42 211.00,338.40 C211.40,341.38 211.17,345.48 210.00,347.90 C208.83,350.32 206.22,351.97 204.00,352.90 C201.78,353.83 198.93,354.65 196.70,353.50 C194.47,352.35 192.30,348.75 190.60,346.00 C188.90,343.25 188.27,339.67 186.50,337.00 C184.73,334.33 180.92,332.42 180.00,330.00 C179.08,327.58 177.83,323.75 181.00,322.50Z" fill="#c59fc9" fill-opacity="1.0"/>
<path d="M176.90,291.80 C178.95,291.80 182.52,293.33 185.50,294.80 C188.48,296.27 192.47,298.00 194.80,300.60 C197.13,303.20 198.33,307.42 199.50,310.40 C200.67,313.38 202.05,316.07 201.80,318.50 C201.55,320.93 200.30,323.33 198.00,325.00 C195.70,326.67 191.00,327.75 188.00,328.50 C185.00,329.25 182.25,330.17 180.00,329.50 C177.75,328.83 175.73,326.92 174.50,324.50 C173.27,322.08 173.15,318.52 172.60,315.00 C172.05,311.48 171.10,306.77 171.20,303.40 C171.30,300.03 172.25,296.73 173.20,294.80 C174.15,292.87 174.85,291.80 176.90,291.80Z" fill="#b07db4" fill-opacity="1.0"/>
<path d="M194.00,300.60 C195.03,299.17 199.77,301.40 202.60,301.80 C205.43,302.20 210.00,301.77 211.00,303.00 C212.00,304.23 209.97,307.13 208.60,309.20 C207.23,311.27 204.37,313.97 202.80,315.40 C201.23,316.83 200.27,318.63 199.20,317.80 C198.13,316.97 197.27,313.27 196.40,310.40 C195.53,307.53 192.97,302.03 194.00,300.60Z" fill="#7550a6" fill-opacity="1.0"/>
</g>
<g fill="#e27c86">
<path d="M141.2,271.5 L143.4,271.5 C143.0,279 141.2,286 138.4,292 C136.4,296.5 134.0,299.8 130.6,302.8 C127.5,305.5 124.0,309.0 121.5,312.5 L120.6,311.8 C123,308 126.5,304.5 129.6,301.6 C132.6,298.8 135.0,295.5 136.8,291.5 C139.4,286 140.8,280 141.2,271.5 Z" opacity="0.8"/>
<path d="M142,271.5 L144.8,271.8 L143.6,276 Z" opacity="0.7"/>
<path d="M132.6,300.2 L138.8,301.6 L138.4,302.6 L132.0,301.4 Z" opacity="0.7"/>
<path d="M124.5,308.0 L118.0,313.0 L117.2,317.6 L119.6,318.0 L123.2,313.5 L126.0,310.0 Z" opacity="0.65"/>
</g>
<text x="64.50" y="284.30" font-size="9.2" font-weight="bold" textLength="12.5" lengthAdjust="spacingAndGlyphs" fill="#1a1a1a" >NK</text>
<text x="112.30" y="256.90" font-size="9.2" font-weight="bold" textLength="43.6" lengthAdjust="spacingAndGlyphs" fill="#1a1a1a" >Monocyte</text>
<text x="175.00" y="270.20" font-size="9.2" font-weight="bold" textLength="12.2" lengthAdjust="spacingAndGlyphs" fill="#1a1a1a" >DC</text>
<text x="112.70" y="312.10" font-size="9.2" font-weight="bold" textLength="33.5" lengthAdjust="spacingAndGlyphs" fill="#1a1a1a" >Platelet</text>
<text x="189.30" y="329.20" font-size="9.0" font-weight="bold" text-anchor="middle" fill="#1a1a1a" >B</text>
<text x="90.00" y="353.60" font-size="9.0" font-weight="bold" text-anchor="middle" fill="#1a1a1a" >T</text>
<path d="M30.9,416 L30.9,382.5 M30.9,416 L64,416" stroke="#111" stroke-width="1.15" fill="none"/>
<path d="M30.9,374.4 L26.0,385.8 L30.9,383.2 L35.8,385.8 Z M72.8,416 L61.4,411.1 L64.0,416 L61.4,420.9 Z" fill="#111"/>
<text transform="translate(24.40,402.70) rotate(-90)" x="0" y="0" font-size="8.6" text-anchor="middle" textLength="30.0" lengthAdjust="spacingAndGlyphs" fill="#444" >UMAP2</text>
<text x="32.60" y="430.00" font-size="8.6" textLength="29.2" lengthAdjust="spacingAndGlyphs" fill="#444" >UMAP1</text>
<rect x="299.00" y="219.70" width="19.8" height="5.35" fill="#c59fc9"/>
<rect x="299.00" y="224.90" width="19.8" height="4.15" fill="#a391c4"/>
<rect x="299.00" y="228.90" width="19.8" height="6.15" fill="#b07db4"/>
<rect x="299.00" y="234.90" width="19.8" height="0.35" fill="#7550a6"/>
<rect x="299.00" y="235.10" width="19.8" height="30.15" fill="#a4cfe3"/>
<rect x="299.00" y="265.10" width="19.8" height="3.15" fill="#6fcbd6"/>
<rect x="299.00" y="268.10" width="19.8" height="36.35" fill="#45c2ef"/>
<rect x="299.00" y="304.30" width="19.8" height="4.55" fill="#7ea2d3"/>
<rect x="299.00" y="308.70" width="19.8" height="15.65" fill="#6689c5"/>
<rect x="299.00" y="324.20" width="19.8" height="14.75" fill="#4d6db3"/>
<rect x="299.00" y="338.80" width="19.8" height="22.45" fill="#435d9b"/>
<rect x="299.00" y="361.10" width="19.8" height="8.65" fill="#6ec8b8"/>
<rect x="299.00" y="369.60" width="19.8" height="1.85" fill="#3f8a46"/>
<rect x="299.00" y="371.30" width="19.8" height="33.45" fill="#9bc24b"/>
<rect x="299.00" y="404.60" width="19.8" height="7.45" fill="#f4894a"/>
<rect x="299.00" y="411.90" width="19.8" height="4.55" fill="#eca133"/>
<rect x="299.00" y="416.30" width="19.8" height="1.75" fill="#d6a07d"/>
<rect x="299.00" y="417.90" width="19.8" height="0.35" fill="#946b6c"/>
<rect x="299.00" y="418.10" width="19.8" height="1.75" fill="#e27c86"/>
<rect x="326.90" y="219.70" width="19.8" height="18.35" fill="#c59fc9"/>
<rect x="326.90" y="237.90" width="19.8" height="12.25" fill="#a391c4"/>
<rect x="326.90" y="250.00" width="19.8" height="8.25" fill="#b07db4"/>
<rect x="326.90" y="258.10" width="19.8" height="1.15" fill="#7550a6"/>
<rect x="326.90" y="259.10" width="19.8" height="19.85" fill="#a4cfe3"/>
<rect x="326.90" y="278.80" width="19.8" height="7.45" fill="#6fcbd6"/>
<rect x="326.90" y="286.10" width="19.8" height="21.05" fill="#45c2ef"/>
<rect x="326.90" y="307.00" width="19.8" height="0.85" fill="#7ea2d3"/>
<rect x="326.90" y="307.70" width="19.8" height="26.55" fill="#6689c5"/>
<rect x="326.90" y="334.10" width="19.8" height="4.85" fill="#4d6db3"/>
<rect x="326.90" y="338.80" width="19.8" height="14.15" fill="#435d9b"/>
<rect x="326.90" y="352.80" width="19.8" height="2.15" fill="#6ec8b8"/>
<rect x="326.90" y="354.80" width="19.8" height="1.05" fill="#3f8a46"/>
<rect x="326.90" y="355.70" width="19.8" height="4.85" fill="#9bc24b"/>
<rect x="326.90" y="360.40" width="19.8" height="34.75" fill="#f4894a"/>
<rect x="326.90" y="395.00" width="19.8" height="19.55" fill="#eca133"/>
<rect x="326.90" y="414.40" width="19.8" height="0.65" fill="#d6a07d"/>
<rect x="326.90" y="414.90" width="19.8" height="0.75" fill="#946b6c"/>
<rect x="326.90" y="415.50" width="19.8" height="4.35" fill="#e27c86"/>
<rect x="354.95" y="219.70" width="19.8" height="10.35" fill="#c59fc9"/>
<rect x="354.95" y="229.90" width="19.8" height="7.15" fill="#a391c4"/>
<rect x="354.95" y="236.90" width="19.8" height="7.15" fill="#b07db4"/>
<rect x="354.95" y="243.90" width="19.8" height="1.15" fill="#7550a6"/>
<rect x="354.95" y="244.90" width="19.8" height="22.05" fill="#a4cfe3"/>
<rect x="354.95" y="266.80" width="19.8" height="6.45" fill="#6fcbd6"/>
<rect x="354.95" y="273.10" width="19.8" height="20.45" fill="#45c2ef"/>
<rect x="354.95" y="293.40" width="19.8" height="2.45" fill="#7ea2d3"/>
<rect x="354.95" y="295.70" width="19.8" height="31.65" fill="#6689c5"/>
<rect x="354.95" y="327.20" width="19.8" height="8.95" fill="#4d6db3"/>
<rect x="354.95" y="336.00" width="19.8" height="23.75" fill="#435d9b"/>
<rect x="354.95" y="359.60" width="19.8" height="2.35" fill="#6ec8b8"/>
<rect x="354.95" y="361.80" width="19.8" height="2.35" fill="#3f8a46"/>
<rect x="354.95" y="364.00" width="19.8" height="5.25" fill="#9bc24b"/>
<rect x="354.95" y="369.10" width="19.8" height="26.85" fill="#f4894a"/>
<rect x="354.95" y="395.80" width="19.8" height="19.45" fill="#eca133"/>
<rect x="354.95" y="415.10" width="19.8" height="3.25" fill="#d6a07d"/>
<rect x="354.95" y="418.20" width="19.8" height="0.25" fill="#946b6c"/>
<rect x="354.95" y="418.30" width="19.8" height="1.55" fill="#e27c86"/>
<line x1="292.3" y1="210" x2="292.3" y2="430.5" stroke="#888" stroke-width="1.25"/>
<line x1="291.7" y1="430.5" x2="380.8" y2="430.5" stroke="#3a3a3a" stroke-width="1"/>
<line x1="289.9" y1="419.7" x2="292.3" y2="419.7" stroke="#888" stroke-width="0.9"/>
<text x="287.40" y="422.70" font-size="8.4" text-anchor="end" fill="#333" >0</text>
<line x1="289.9" y1="369.7" x2="292.3" y2="369.7" stroke="#888" stroke-width="0.9"/>
<text x="287.40" y="372.70" font-size="8.4" text-anchor="end" fill="#333" >25</text>
<line x1="289.9" y1="319.7" x2="292.3" y2="319.7" stroke="#888" stroke-width="0.9"/>
<text x="287.40" y="322.70" font-size="8.4" text-anchor="end" fill="#333" >50</text>
<line x1="289.9" y1="269.7" x2="292.3" y2="269.7" stroke="#888" stroke-width="0.9"/>
<text x="287.40" y="272.70" font-size="8.4" text-anchor="end" fill="#333" >75</text>
<line x1="289.9" y1="219.7" x2="292.3" y2="219.7" stroke="#888" stroke-width="0.9"/>
<text x="287.40" y="222.70" font-size="8.4" text-anchor="end" fill="#333" >100</text>
<line x1="308.9" y1="430" x2="308.9" y2="432.4" stroke="#3a3a3a" stroke-width="0.9"/>
<text transform="translate(314.50,436.90) rotate(-45)" x="0" y="0" font-size="8.4" text-anchor="end" fill="#333" >HC</text>
<line x1="336.8" y1="430" x2="336.8" y2="432.4" stroke="#3a3a3a" stroke-width="0.9"/>
<text transform="translate(342.40,436.90) rotate(-45)" x="0" y="0" font-size="8.4" text-anchor="end" fill="#333" >SLE</text>
<line x1="364.85" y1="430" x2="364.85" y2="432.4" stroke="#3a3a3a" stroke-width="0.9"/>
<text transform="translate(370.45,436.90) rotate(-45)" x="0" y="0" font-size="8.4" text-anchor="end" fill="#333" >LN</text>
<text transform="translate(269.20,318.00) rotate(-90)" x="0" y="0" font-size="8.3" font-weight="bold" text-anchor="middle" textLength="57.7" lengthAdjust="spacingAndGlyphs" fill="#1a1a1a" >Proportion (%)</text>
<rect x="421.9" y="218.7" width="109.00" height="13.20" fill="#a97cb8"/>
<text x="442.60" y="229.00" font-size="8.2" font-weight="bold" textLength="23.3" lengthAdjust="spacingAndGlyphs" fill="#1a1a1a" >B cells</text>
<circle cx="427.8" cy="242.0" r="3.5" fill="#c59fc9"/>
<text x="441.30" y="245.10" font-size="8.4" textLength="48.6" lengthAdjust="spacingAndGlyphs" fill="#2a2a2a" >IGKC<tspan baseline-shift="super" font-size="70%">+</tspan> Naive B</text>
<circle cx="427.8" cy="257.6" r="3.5" fill="#a391c4"/>
<text x="441.30" y="260.70" font-size="8.4" textLength="52.3" lengthAdjust="spacingAndGlyphs" fill="#2a2a2a" >IGLC2<tspan baseline-shift="super" font-size="70%">+</tspan> Naive B</text>
<circle cx="427.8" cy="273.2" r="3.5" fill="#b07db4"/>
<text x="441.30" y="276.30" font-size="8.4" textLength="36.6" lengthAdjust="spacingAndGlyphs" fill="#2a2a2a" >Memory B</text>
<circle cx="427.8" cy="288.9" r="3.5" fill="#7550a6"/>
<text x="441.30" y="292.00" font-size="8.4" textLength="28.5" lengthAdjust="spacingAndGlyphs" fill="#2a2a2a" >Active B</text>
<rect x="421.9" y="299.0" width="109.00" height="13.20" fill="#4f8fc9"/>
<text x="442.60" y="309.30" font-size="8.2" font-weight="bold" textLength="22.6" lengthAdjust="spacingAndGlyphs" fill="#1a1a1a" >T cells</text>
<circle cx="427.8" cy="321.5" r="3.5" fill="#a4cfe3"/>
<text x="441.20" y="324.60" font-size="8.4" textLength="44.5" lengthAdjust="spacingAndGlyphs" fill="#2a2a2a" >CD4<tspan baseline-shift="super" font-size="70%">+</tspan> naive T</text>
<circle cx="427.8" cy="337.0" r="3.5" fill="#6fcbd6"/>
<text x="441.20" y="340.10" font-size="8.4" textLength="14.9" lengthAdjust="spacingAndGlyphs" fill="#2a2a2a" >Treg</text>
<circle cx="427.8" cy="352.5" r="3.5" fill="#45c2ef"/>
<text x="441.20" y="355.60" font-size="8.4" textLength="56.2" lengthAdjust="spacingAndGlyphs" fill="#2a2a2a" >CD4<tspan baseline-shift="super" font-size="70%">+</tspan> memory T</text>
<circle cx="427.8" cy="368.0" r="3.5" fill="#7ea2d3"/>
<text x="441.20" y="371.10" font-size="8.4" textLength="53.3" lengthAdjust="spacingAndGlyphs" fill="#2a2a2a" >CD4<tspan baseline-shift="super" font-size="70%">+</tspan> effector T</text>
<circle cx="427.8" cy="383.9" r="3.5" fill="#6689c5"/>
<text x="441.20" y="387.00" font-size="8.4" textLength="44.8" lengthAdjust="spacingAndGlyphs" fill="#2a2a2a" >CD8<tspan baseline-shift="super" font-size="70%">+</tspan> naive T</text>
<circle cx="427.8" cy="399.6" r="3.5" fill="#4d6db3"/>
<text x="441.20" y="402.70" font-size="8.4" textLength="56.5" lengthAdjust="spacingAndGlyphs" fill="#2a2a2a" >CD8<tspan baseline-shift="super" font-size="70%">+</tspan> memory T</text>
<circle cx="427.8" cy="415.1" r="3.5" fill="#435d9b"/>
<text x="441.20" y="418.20" font-size="8.4" textLength="53.3" lengthAdjust="spacingAndGlyphs" fill="#2a2a2a" >CD8<tspan baseline-shift="super" font-size="70%">+</tspan> effector T</text>
<circle cx="427.8" cy="430.6" r="3.5" fill="#6ec8b8"/>
<text x="441.20" y="433.70" font-size="8.4" textLength="14.3" lengthAdjust="spacingAndGlyphs" fill="#2a2a2a" >γδ T</text>
<rect x="543.1" y="218.6" width="109.00" height="13.30" fill="#6aab57"/>
<text x="563.00" y="229.00" font-size="8.2" font-weight="bold" textLength="29.4" lengthAdjust="spacingAndGlyphs" fill="#1a1a1a" >NK cells</text>
<circle cx="549.2" cy="242.6" r="3.5" fill="#3f8a46"/>
<text x="562.80" y="245.70" font-size="8.4" textLength="34.6" lengthAdjust="spacingAndGlyphs" fill="#2a2a2a" >CD56<tspan baseline-shift="super" font-size="70%">+</tspan> NK</text>
<circle cx="549.2" cy="258.4" r="3.5" fill="#9bc24b"/>
<text x="562.80" y="261.50" font-size="8.4" textLength="34.6" lengthAdjust="spacingAndGlyphs" fill="#2a2a2a" >CD16<tspan baseline-shift="super" font-size="70%">+</tspan> NK</text>
<rect x="543.1" y="273.6" width="109.00" height="13.30" fill="#f4894a"/>
<text x="563.00" y="284.00" font-size="8.2" font-weight="bold" textLength="42.2" lengthAdjust="spacingAndGlyphs" fill="#1a1a1a" >Monocytes</text>
<circle cx="549.2" cy="298.3" r="3.5" fill="#f4894a"/>
<text x="562.80" y="301.40" font-size="8.4" textLength="52.8" lengthAdjust="spacingAndGlyphs" fill="#2a2a2a" >Classical Mono</text>
<circle cx="549.2" cy="314.0" r="3.5" fill="#eca133"/>
<text x="562.80" y="317.10" font-size="8.4" textLength="69.9" lengthAdjust="spacingAndGlyphs" fill="#2a2a2a" >Intermediate Mono</text>
<circle cx="549.2" cy="329.8" r="3.5" fill="#d6a07d"/>
<text x="562.80" y="332.90" font-size="8.4" textLength="72.1" lengthAdjust="spacingAndGlyphs" fill="#2a2a2a" >Non−classical Mono</text>
<rect x="543.1" y="344.2" width="109.00" height="13.60" fill="#936b6b"/>
<text x="563.00" y="354.90" font-size="8.2" font-weight="bold" textLength="11.4" lengthAdjust="spacingAndGlyphs" fill="#1a1a1a" >DC</text>
<circle cx="549.2" cy="366.9" r="3.5" fill="#946b6c"/>
<text x="562.80" y="370.00" font-size="8.4" textLength="10.5" lengthAdjust="spacingAndGlyphs" fill="#2a2a2a" >DC</text>
<rect x="543.1" y="378.4" width="109.00" height="13.30" fill="#e07a84"/>
<text x="563.00" y="388.80" font-size="8.2" font-weight="bold" textLength="29.4" lengthAdjust="spacingAndGlyphs" fill="#1a1a1a" >Platelet</text>
<circle cx="549.2" cy="400.4" r="3.5" fill="#e27c86"/>
<text x="562.80" y="403.50" font-size="8.4" textLength="26.8" lengthAdjust="spacingAndGlyphs" fill="#2a2a2a" >Platelet</text>
<text x="2.00" y="484.90" font-size="10.5" font-weight="bold" textLength="5.60" lengthAdjust="spacingAndGlyphs" fill="#111" stroke="#111" stroke-width="0.5">C</text>
<g stroke="#4cb748" stroke-width="0.85" fill="none">
<line x1="48.85" y1="619.97" x2="48.85" y2="622.71"/>
<line x1="48.85" y1="627.23" x2="48.85" y2="631.26"/>
<rect x="43.65" y="622.71" width="10.4" height="4.52"/>
<line x1="43.65" y1="625.29" x2="54.05" y2="625.29"/>
</g>
<circle cx="50.65" cy="619.97" r="1.6" fill="#4cb748"/>
<circle cx="47.35" cy="622.06" r="1.6" fill="#4cb748"/>
<circle cx="49.45" cy="623.68" r="1.6" fill="#4cb748"/>
<circle cx="46.65" cy="625.61" r="1.6" fill="#4cb748"/>
<circle cx="50.05" cy="628.51" r="1.6" fill="#4cb748"/>
<circle cx="48.45" cy="631.26" r="1.6" fill="#4cb748"/>
<g stroke="#f39c34" stroke-width="0.85" fill="none">
<line x1="60.40" y1="571.59" x2="60.40" y2="593.36"/>
<line x1="60.40" y1="620.77" x2="60.40" y2="627.23"/>
<rect x="55.20" y="593.36" width="10.4" height="27.41"/>
<line x1="55.20" y1="611.10" x2="65.60" y2="611.10"/>
</g>
<circle cx="58.90" cy="571.59" r="1.6" fill="#f39c34"/>
<circle cx="61.00" cy="589.33" r="1.6" fill="#f39c34"/>
<circle cx="58.20" cy="604.65" r="1.6" fill="#f39c34"/>
<circle cx="61.60" cy="616.74" r="1.6" fill="#f39c34"/>
<circle cx="60.00" cy="621.58" r="1.6" fill="#f39c34"/>
<circle cx="62.20" cy="627.23" r="1.6" fill="#f39c34"/>
<g stroke="#f07b5f" stroke-width="0.85" fill="none">
<line x1="71.95" y1="602.23" x2="71.95" y2="609.49"/>
<line x1="71.95" y1="622.39" x2="71.95" y2="630.45"/>
<rect x="66.75" y="609.49" width="10.4" height="12.90"/>
<line x1="66.75" y1="614.32" x2="77.15" y2="614.32"/>
</g>
<circle cx="72.55" cy="602.23" r="1.6" fill="#f07b5f"/>
<circle cx="69.75" cy="609.49" r="1.6" fill="#f07b5f"/>
<circle cx="73.15" cy="611.10" r="1.6" fill="#f07b5f"/>
<circle cx="71.55" cy="618.36" r="1.6" fill="#f07b5f"/>
<circle cx="73.75" cy="624.00" r="1.6" fill="#f07b5f"/>
<circle cx="70.45" cy="630.45" r="1.6" fill="#f07b5f"/>
<g stroke="#4cb748" stroke-width="0.85" fill="none">
<line x1="92.22" y1="567.56" x2="92.22" y2="569.98"/>
<line x1="92.22" y1="590.14" x2="92.22" y2="591.75"/>
<rect x="87.02" y="569.98" width="10.4" height="20.16"/>
<line x1="87.02" y1="581.27" x2="97.42" y2="581.27"/>
</g>
<circle cx="90.72" cy="567.56" r="1.6" fill="#4cb748"/>
<circle cx="92.82" cy="569.17" r="1.6" fill="#4cb748"/>
<circle cx="90.02" cy="574.01" r="1.6" fill="#4cb748"/>
<circle cx="93.42" cy="590.14" r="1.6" fill="#4cb748"/>
<circle cx="91.82" cy="590.94" r="1.6" fill="#4cb748"/>
<circle cx="94.02" cy="591.75" r="1.6" fill="#4cb748"/>
<g stroke="#f39c34" stroke-width="0.85" fill="none">
<line x1="103.77" y1="582.40" x2="103.77" y2="588.69"/>
<line x1="103.77" y1="602.23" x2="103.77" y2="617.07"/>
<rect x="98.57" y="588.69" width="10.4" height="13.54"/>
<line x1="98.57" y1="594.17" x2="108.97" y2="594.17"/>
</g>
<circle cx="104.37" cy="582.88" r="1.6" fill="#f39c34"/>
<circle cx="101.57" cy="587.72" r="1.6" fill="#f39c34"/>
<circle cx="104.97" cy="591.75" r="1.6" fill="#f39c34"/>
<circle cx="103.37" cy="595.78" r="1.6" fill="#f39c34"/>
<circle cx="105.57" cy="605.46" r="1.6" fill="#f39c34"/>
<circle cx="102.27" cy="616.74" r="1.6" fill="#f39c34"/>
<g stroke="#f07b5f" stroke-width="0.85" fill="none">
<line x1="115.32" y1="586.91" x2="115.32" y2="588.69"/>
<line x1="115.32" y1="604.17" x2="115.32" y2="607.88"/>
<rect x="110.12" y="588.69" width="10.4" height="15.48"/>
<line x1="110.12" y1="597.07" x2="120.52" y2="597.07"/>
</g>
<circle cx="113.12" cy="586.91" r="1.6" fill="#f07b5f"/>
<circle cx="116.52" cy="594.17" r="1.6" fill="#f07b5f"/>
<circle cx="114.92" cy="597.39" r="1.6" fill="#f07b5f"/>
<circle cx="117.12" cy="599.81" r="1.6" fill="#f07b5f"/>
<circle cx="113.82" cy="606.26" r="1.6" fill="#f07b5f"/>
<circle cx="115.92" cy="607.88" r="1.6" fill="#f07b5f"/>
<g stroke="#4cb748" stroke-width="0.85" fill="none">
<line x1="135.59" y1="586.11" x2="135.59" y2="589.65"/>
<line x1="135.59" y1="598.36" x2="135.59" y2="603.04"/>
<rect x="130.39" y="589.65" width="10.4" height="8.71"/>
<line x1="130.39" y1="594.49" x2="140.79" y2="594.49"/>
</g>
<circle cx="136.19" cy="586.11" r="1.6" fill="#4cb748"/>
<circle cx="133.39" cy="590.14" r="1.6" fill="#4cb748"/>
<circle cx="136.79" cy="593.36" r="1.6" fill="#4cb748"/>
<circle cx="135.19" cy="596.59" r="1.6" fill="#4cb748"/>
<circle cx="137.39" cy="599.81" r="1.6" fill="#4cb748"/>
<circle cx="134.09" cy="603.04" r="1.6" fill="#4cb748"/>
<g stroke="#f39c34" stroke-width="0.85" fill="none">
<line x1="147.14" y1="585.30" x2="147.14" y2="594.49"/>
<line x1="147.14" y1="602.39" x2="147.14" y2="603.04"/>
<rect x="141.94" y="594.49" width="10.4" height="7.90"/>
<line x1="141.94" y1="598.20" x2="152.34" y2="598.20"/>
</g>
<circle cx="144.94" cy="585.30" r="1.6" fill="#f39c34"/>
<circle cx="148.34" cy="595.78" r="1.6" fill="#f39c34"/>
<circle cx="146.74" cy="597.39" r="1.6" fill="#f39c34"/>
<circle cx="148.94" cy="601.42" r="1.6" fill="#f39c34"/>
<circle cx="145.64" cy="603.04" r="1.6" fill="#f39c34"/>
<circle cx="147.74" cy="625.61" r="1.6" fill="#f39c34"/>
<g stroke="#f07b5f" stroke-width="0.85" fill="none">
<line x1="158.69" y1="576.43" x2="158.69" y2="578.04"/>
<line x1="158.69" y1="591.59" x2="158.69" y2="600.62"/>
<rect x="153.49" y="578.04" width="10.4" height="13.55"/>
<line x1="153.49" y1="583.37" x2="163.89" y2="583.37"/>
</g>
<circle cx="159.89" cy="576.43" r="1.6" fill="#f07b5f"/>
<circle cx="158.29" cy="581.27" r="1.6" fill="#f07b5f"/>
<circle cx="160.49" cy="583.69" r="1.6" fill="#f07b5f"/>
<circle cx="157.19" cy="584.49" r="1.6" fill="#f07b5f"/>
<circle cx="159.29" cy="592.56" r="1.6" fill="#f07b5f"/>
<circle cx="156.49" cy="600.62" r="1.6" fill="#f07b5f"/>
<g stroke="#4cb748" stroke-width="0.85" fill="none">
<line x1="178.96" y1="592.39" x2="178.96" y2="603.36"/>
<line x1="178.96" y1="614.65" x2="178.96" y2="623.52"/>
<rect x="173.76" y="603.36" width="10.4" height="11.29"/>
<line x1="173.76" y1="611.26" x2="184.16" y2="611.26"/>
</g>
<circle cx="176.76" cy="593.36" r="1.6" fill="#4cb748"/>
<circle cx="180.16" cy="600.62" r="1.6" fill="#4cb748"/>
<circle cx="178.56" cy="610.29" r="1.6" fill="#4cb748"/>
<circle cx="180.76" cy="612.71" r="1.6" fill="#4cb748"/>
<circle cx="177.46" cy="614.32" r="1.6" fill="#4cb748"/>
<circle cx="179.56" cy="624.00" r="1.6" fill="#4cb748"/>
<g stroke="#f39c34" stroke-width="0.85" fill="none">
<line x1="190.51" y1="628.03" x2="190.51" y2="629.64"/>
<line x1="190.51" y1="634.97" x2="190.51" y2="635.29"/>
<rect x="185.31" y="629.64" width="10.4" height="5.32"/>
<line x1="185.31" y1="632.38" x2="195.71" y2="632.38"/>
</g>
<circle cx="191.71" cy="628.03" r="1.6" fill="#f39c34"/>
<circle cx="190.11" cy="629.64" r="1.6" fill="#f39c34"/>
<circle cx="192.31" cy="631.26" r="1.6" fill="#f39c34"/>
<circle cx="189.01" cy="632.87" r="1.6" fill="#f39c34"/>
<circle cx="191.11" cy="634.48" r="1.6" fill="#f39c34"/>
<circle cx="188.31" cy="635.29" r="1.6" fill="#f39c34"/>
<g stroke="#f07b5f" stroke-width="0.85" fill="none">
<line x1="202.06" y1="628.03" x2="202.06" y2="628.35"/>
<line x1="202.06" y1="634.97" x2="202.06" y2="635.29"/>
<rect x="196.86" y="628.35" width="10.4" height="6.61"/>
<line x1="196.86" y1="631.10" x2="207.26" y2="631.10"/>
</g>
<circle cx="201.66" cy="628.03" r="1.6" fill="#f07b5f"/>
<circle cx="203.86" cy="628.84" r="1.6" fill="#f07b5f"/>
<circle cx="200.56" cy="630.45" r="1.6" fill="#f07b5f"/>
<circle cx="202.66" cy="632.87" r="1.6" fill="#f07b5f"/>
<circle cx="199.86" cy="634.48" r="1.6" fill="#f07b5f"/>
<circle cx="203.26" cy="635.29" r="1.6" fill="#f07b5f"/>
<g stroke="#4cb748" stroke-width="0.85" fill="none">
<line x1="222.33" y1="627.23" x2="222.33" y2="627.23"/>
<line x1="222.33" y1="630.77" x2="222.33" y2="632.38"/>
<rect x="217.13" y="627.23" width="10.4" height="3.55"/>
<line x1="217.13" y1="629.16" x2="227.53" y2="629.16"/>
</g>
<circle cx="223.53" cy="627.71" r="1.6" fill="#4cb748"/>
<circle cx="221.93" cy="628.84" r="1.6" fill="#4cb748"/>
<circle cx="224.13" cy="629.64" r="1.6" fill="#4cb748"/>
<circle cx="220.83" cy="630.45" r="1.6" fill="#4cb748"/>
<circle cx="222.93" cy="631.26" r="1.6" fill="#4cb748"/>
<circle cx="220.13" cy="632.38" r="1.6" fill="#4cb748"/>
<g stroke="#f39c34" stroke-width="0.85" fill="none">
<line x1="233.88" y1="634.00" x2="233.88" y2="634.16"/>
<line x1="233.88" y1="636.25" x2="233.88" y2="636.42"/>
<rect x="228.68" y="634.16" width="10.4" height="2.10"/>
<line x1="228.68" y1="635.29" x2="239.08" y2="635.29"/>
</g>
<circle cx="233.48" cy="634.48" r="1.6" fill="#f39c34"/>
<circle cx="235.68" cy="635.29" r="1.6" fill="#f39c34"/>
<circle cx="232.38" cy="635.29" r="1.6" fill="#f39c34"/>
<circle cx="234.48" cy="635.61" r="1.6" fill="#f39c34"/>
<circle cx="231.68" cy="636.09" r="1.6" fill="#f39c34"/>
<circle cx="235.08" cy="636.09" r="1.6" fill="#f39c34"/>
<g stroke="#f07b5f" stroke-width="0.85" fill="none">
<line x1="245.43" y1="632.06" x2="245.43" y2="632.55"/>
<line x1="245.43" y1="635.29" x2="245.43" y2="635.61"/>
<rect x="240.23" y="632.55" width="10.4" height="2.74"/>
<line x1="240.23" y1="634.00" x2="250.63" y2="634.00"/>
</g>
<circle cx="247.23" cy="632.06" r="1.6" fill="#f07b5f"/>
<circle cx="243.93" cy="632.87" r="1.6" fill="#f07b5f"/>
<circle cx="246.03" cy="633.67" r="1.6" fill="#f07b5f"/>
<circle cx="243.23" cy="634.48" r="1.6" fill="#f07b5f"/>
<circle cx="246.63" cy="634.97" r="1.6" fill="#f07b5f"/>
<circle cx="245.03" cy="635.29" r="1.6" fill="#f07b5f"/>
<g stroke="#4cb748" stroke-width="0.85" fill="none">
<line x1="265.70" y1="595.30" x2="265.70" y2="617.23"/>
<line x1="265.70" y1="632.55" x2="265.70" y2="632.87"/>
<rect x="260.50" y="617.23" width="10.4" height="15.32"/>
<line x1="260.50" y1="629.32" x2="270.90" y2="629.32"/>
</g>
<circle cx="265.30" cy="595.78" r="1.6" fill="#4cb748"/>
<circle cx="267.50" cy="618.36" r="1.6" fill="#4cb748"/>
<circle cx="264.20" cy="628.84" r="1.6" fill="#4cb748"/>
<circle cx="266.30" cy="630.45" r="1.6" fill="#4cb748"/>
<circle cx="263.50" cy="631.26" r="1.6" fill="#4cb748"/>
<circle cx="266.90" cy="632.87" r="1.6" fill="#4cb748"/>
<g stroke="#f39c34" stroke-width="0.85" fill="none">
<line x1="277.25" y1="580.14" x2="277.25" y2="583.69"/>
<line x1="277.25" y1="616.90" x2="277.25" y2="627.23"/>
<rect x="272.05" y="583.69" width="10.4" height="33.22"/>
<line x1="272.05" y1="600.78" x2="282.45" y2="600.78"/>
</g>
<circle cx="279.05" cy="526.77" r="1.6" fill="#f39c34"/>
<circle cx="275.75" cy="580.46" r="1.6" fill="#f39c34"/>
<circle cx="277.85" cy="596.10" r="1.6" fill="#f39c34"/>
<circle cx="275.05" cy="605.78" r="1.6" fill="#f39c34"/>
<circle cx="278.45" cy="619.97" r="1.6" fill="#f39c34"/>
<circle cx="276.85" cy="627.23" r="1.6" fill="#f39c34"/>
<g stroke="#f07b5f" stroke-width="0.85" fill="none">
<line x1="288.80" y1="595.30" x2="288.80" y2="595.30"/>
<line x1="288.80" y1="603.04" x2="288.80" y2="605.46"/>
<rect x="283.60" y="595.30" width="10.4" height="7.74"/>
<line x1="283.60" y1="598.85" x2="294.00" y2="598.85"/>
</g>
<circle cx="287.30" cy="579.66" r="1.6" fill="#f07b5f"/>
<circle cx="289.40" cy="595.78" r="1.6" fill="#f07b5f"/>
<circle cx="286.60" cy="597.39" r="1.6" fill="#f07b5f"/>
<circle cx="290.00" cy="599.81" r="1.6" fill="#f07b5f"/>
<circle cx="288.40" cy="602.23" r="1.6" fill="#f07b5f"/>
<circle cx="290.60" cy="605.46" r="1.6" fill="#f07b5f"/>
<g stroke="#4cb748" stroke-width="0.85" fill="none">
<line x1="309.07" y1="635.77" x2="309.07" y2="636.09"/>
<line x1="309.07" y1="636.74" x2="309.07" y2="636.90"/>
<rect x="303.87" y="636.09" width="10.4" height="0.80"/>
<line x1="303.87" y1="636.42" x2="314.27" y2="636.42"/>
</g>
<circle cx="310.87" cy="635.93" r="1.6" fill="#4cb748"/>
<circle cx="307.57" cy="636.25" r="1.6" fill="#4cb748"/>
<circle cx="309.67" cy="636.42" r="1.6" fill="#4cb748"/>
<circle cx="306.87" cy="636.58" r="1.6" fill="#4cb748"/>
<circle cx="310.27" cy="636.74" r="1.6" fill="#4cb748"/>
<circle cx="308.67" cy="636.09" r="1.6" fill="#4cb748"/>
<g stroke="#f39c34" stroke-width="0.85" fill="none">
<line x1="320.62" y1="634.97" x2="320.62" y2="635.45"/>
<line x1="320.62" y1="636.58" x2="320.62" y2="636.90"/>
<rect x="315.42" y="635.45" width="10.4" height="1.13"/>
<line x1="315.42" y1="636.09" x2="325.82" y2="636.09"/>
</g>
<circle cx="319.12" cy="634.97" r="1.6" fill="#f39c34"/>
<circle cx="321.22" cy="635.45" r="1.6" fill="#f39c34"/>
<circle cx="318.42" cy="635.93" r="1.6" fill="#f39c34"/>
<circle cx="321.82" cy="636.25" r="1.6" fill="#f39c34"/>
<circle cx="320.22" cy="636.58" r="1.6" fill="#f39c34"/>
<circle cx="322.42" cy="635.61" r="1.6" fill="#f39c34"/>
<g stroke="#f07b5f" stroke-width="0.85" fill="none">
<line x1="332.17" y1="635.45" x2="332.17" y2="635.77"/>
<line x1="332.17" y1="636.74" x2="332.17" y2="636.90"/>
<rect x="326.97" y="635.77" width="10.4" height="0.97"/>
<line x1="326.97" y1="636.25" x2="337.37" y2="636.25"/>
</g>
<circle cx="332.77" cy="635.45" r="1.6" fill="#f07b5f"/>
<circle cx="329.97" cy="635.93" r="1.6" fill="#f07b5f"/>
<circle cx="333.37" cy="636.25" r="1.6" fill="#f07b5f"/>
<circle cx="331.77" cy="636.58" r="1.6" fill="#f07b5f"/>
<circle cx="333.97" cy="636.74" r="1.6" fill="#f07b5f"/>
<circle cx="330.67" cy="636.09" r="1.6" fill="#f07b5f"/>
<g stroke="#4cb748" stroke-width="0.85" fill="none">
<line x1="352.44" y1="634.64" x2="352.44" y2="634.97"/>
<line x1="352.44" y1="635.93" x2="352.44" y2="636.09"/>
<rect x="347.24" y="634.97" width="10.4" height="0.97"/>
<line x1="347.24" y1="635.29" x2="357.64" y2="635.29"/>
</g>
<circle cx="350.94" cy="634.80" r="1.6" fill="#4cb748"/>
<circle cx="353.04" cy="634.97" r="1.6" fill="#4cb748"/>
<circle cx="350.24" cy="635.29" r="1.6" fill="#4cb748"/>
<circle cx="353.64" cy="635.45" r="1.6" fill="#4cb748"/>
<circle cx="352.04" cy="635.77" r="1.6" fill="#4cb748"/>
<circle cx="354.24" cy="635.93" r="1.6" fill="#4cb748"/>
<g stroke="#f39c34" stroke-width="0.85" fill="none">
<line x1="363.99" y1="631.58" x2="363.99" y2="632.38"/>
<line x1="363.99" y1="636.42" x2="363.99" y2="636.90"/>
<rect x="358.79" y="632.38" width="10.4" height="4.03"/>
<line x1="358.79" y1="634.80" x2="369.19" y2="634.80"/>
</g>
<circle cx="364.59" cy="626.90" r="1.6" fill="#f39c34"/>
<circle cx="361.79" cy="631.58" r="1.6" fill="#f39c34"/>
<circle cx="365.19" cy="633.67" r="1.6" fill="#f39c34"/>
<circle cx="363.59" cy="635.29" r="1.6" fill="#f39c34"/>
<circle cx="365.79" cy="636.25" r="1.6" fill="#f39c34"/>
<circle cx="362.49" cy="636.58" r="1.6" fill="#f39c34"/>
<g stroke="#f07b5f" stroke-width="0.85" fill="none">
<line x1="375.54" y1="634.48" x2="375.54" y2="634.97"/>
<line x1="375.54" y1="636.42" x2="375.54" y2="636.74"/>
<rect x="370.34" y="634.97" width="10.4" height="1.45"/>
<line x1="370.34" y1="635.61" x2="380.74" y2="635.61"/>
</g>
<circle cx="373.34" cy="632.87" r="1.6" fill="#f07b5f"/>
<circle cx="376.74" cy="635.29" r="1.6" fill="#f07b5f"/>
<circle cx="375.14" cy="635.61" r="1.6" fill="#f07b5f"/>
<circle cx="377.34" cy="636.09" r="1.6" fill="#f07b5f"/>
<circle cx="374.04" cy="636.42" r="1.6" fill="#f07b5f"/>
<circle cx="376.14" cy="636.58" r="1.6" fill="#f07b5f"/>
<path d="M34.5,492.8 L34.5,643.5 L390.2,643.5" stroke="#2a2a2a" stroke-width="1" fill="none"/>
<line x1="32.4" y1="636.90" x2="34.5" y2="636.90" stroke="#2a2a2a" stroke-width="0.8"/>
<text x="30.60" y="639.90" font-size="8.4" text-anchor="end" fill="#4a4a4a" >0</text>
<line x1="32.4" y1="604.65" x2="34.5" y2="604.65" stroke="#2a2a2a" stroke-width="0.8"/>
<text x="30.60" y="607.65" font-size="8.4" text-anchor="end" fill="#4a4a4a" >20</text>
<line x1="32.4" y1="572.40" x2="34.5" y2="572.40" stroke="#2a2a2a" stroke-width="0.8"/>
<text x="30.60" y="575.40" font-size="8.4" text-anchor="end" fill="#4a4a4a" >40</text>
<line x1="32.4" y1="540.15" x2="34.5" y2="540.15" stroke="#2a2a2a" stroke-width="0.8"/>
<text x="30.60" y="543.15" font-size="8.4" text-anchor="end" fill="#4a4a4a" >60</text>
<line x1="32.4" y1="507.90" x2="34.5" y2="507.90" stroke="#2a2a2a" stroke-width="0.8"/>
<text x="30.60" y="510.90" font-size="8.4" text-anchor="end" fill="#4a4a4a" >80</text>
<line x1="60.40" y1="643.5" x2="60.40" y2="645.8" stroke="#2a2a2a" stroke-width="0.8"/>
<text transform="translate(65.40,651.80) rotate(-45)" x="0" y="0" font-size="8.4" text-anchor="end" fill="#4a4a4a" >B</text>
<line x1="103.77" y1="643.5" x2="103.77" y2="645.8" stroke="#2a2a2a" stroke-width="0.8"/>
<text transform="translate(108.77,651.80) rotate(-45)" x="0" y="0" font-size="8.4" text-anchor="end" fill="#4a4a4a" >CD4<tspan baseline-shift="super" font-size="70%">+</tspan>T</text>
<line x1="147.14" y1="643.5" x2="147.14" y2="645.8" stroke="#2a2a2a" stroke-width="0.8"/>
<text transform="translate(152.14,651.80) rotate(-45)" x="0" y="0" font-size="8.4" text-anchor="end" fill="#4a4a4a" >CD8<tspan baseline-shift="super" font-size="70%">+</tspan>T</text>
<line x1="190.51" y1="643.5" x2="190.51" y2="645.8" stroke="#2a2a2a" stroke-width="0.8"/>
<text transform="translate(195.51,651.80) rotate(-45)" x="0" y="0" font-size="8.4" text-anchor="end" fill="#4a4a4a" >NK</text>
<line x1="233.88" y1="643.5" x2="233.88" y2="645.8" stroke="#2a2a2a" stroke-width="0.8"/>
<text transform="translate(238.88,651.80) rotate(-45)" x="0" y="0" font-size="8.4" text-anchor="end" fill="#4a4a4a" >γδT</text>
<line x1="277.25" y1="643.5" x2="277.25" y2="645.8" stroke="#2a2a2a" stroke-width="0.8"/>
<text transform="translate(282.25,651.80) rotate(-45)" x="0" y="0" font-size="8.4" text-anchor="end" fill="#4a4a4a" >Monocyte</text>
<line x1="320.62" y1="643.5" x2="320.62" y2="645.8" stroke="#2a2a2a" stroke-width="0.8"/>
<text transform="translate(325.62,651.80) rotate(-45)" x="0" y="0" font-size="8.4" text-anchor="end" fill="#4a4a4a" >DC</text>
<line x1="363.99" y1="643.5" x2="363.99" y2="645.8" stroke="#2a2a2a" stroke-width="0.8"/>
<text transform="translate(368.99,651.80) rotate(-45)" x="0" y="0" font-size="8.4" text-anchor="end" fill="#4a4a4a" >Platelet</text>
<text transform="translate(16.10,570.80) rotate(-90)" x="0" y="0" font-size="9.0" font-weight="bold" text-anchor="middle" textLength="64.4" lengthAdjust="spacingAndGlyphs" fill="#1a1a1a" >Proportion (%)</text>
<path d="M47.40,505.0 L47.40,501.3 L73.50,501.3 L73.50,505.0" stroke="#2a2a2a" stroke-width="0.9" fill="none"/>
<path d="M47.40,520.3 L47.40,516.6 L60.60,516.6 L60.60,520.3" stroke="#2a2a2a" stroke-width="0.9" fill="none"/>
<text x="60.45" y="499.40" font-size="8.6" text-anchor="middle" textLength="7.9" lengthAdjust="spacingAndGlyphs" fill="#4a4a4a" >ns</text>
<text x="54.00" y="513.80" font-size="9.4" text-anchor="middle" fill="#4a4a4a" >*</text>
<path d="M88.40,505.0 L88.40,501.3 L114.50,501.3 L114.50,505.0" stroke="#2a2a2a" stroke-width="0.9" fill="none"/>
<path d="M88.40,520.3 L88.40,516.6 L101.60,516.6 L101.60,520.3" stroke="#2a2a2a" stroke-width="0.9" fill="none"/>
<text x="101.45" y="499.40" font-size="8.6" text-anchor="middle" textLength="7.9" lengthAdjust="spacingAndGlyphs" fill="#4a4a4a" >ns</text>
<text x="95.00" y="514.60" font-size="8.6" text-anchor="middle" textLength="7.9" lengthAdjust="spacingAndGlyphs" fill="#4a4a4a" >ns</text>
<path d="M133.10,505.0 L133.10,501.3 L159.20,501.3 L159.20,505.0" stroke="#2a2a2a" stroke-width="0.9" fill="none"/>
<path d="M133.10,520.3 L133.10,516.6 L146.30,516.6 L146.30,520.3" stroke="#2a2a2a" stroke-width="0.9" fill="none"/>
<text x="146.15" y="499.40" font-size="8.6" text-anchor="middle" textLength="7.9" lengthAdjust="spacingAndGlyphs" fill="#4a4a4a" >ns</text>
<text x="139.70" y="514.60" font-size="8.6" text-anchor="middle" textLength="7.9" lengthAdjust="spacingAndGlyphs" fill="#4a4a4a" >ns</text>
<path d="M178.20,505.0 L178.20,501.3 L204.30,501.3 L204.30,505.0" stroke="#2a2a2a" stroke-width="0.9" fill="none"/>
<path d="M178.20,520.3 L178.20,516.6 L191.40,516.6 L191.40,520.3" stroke="#2a2a2a" stroke-width="0.9" fill="none"/>
<text x="191.25" y="498.60" font-size="9.4" text-anchor="middle" fill="#4a4a4a" >**</text>
<text x="184.80" y="513.80" font-size="9.4" text-anchor="middle" fill="#4a4a4a" >**</text>
<path d="M222.40,505.0 L222.40,501.3 L248.50,501.3 L248.50,505.0" stroke="#2a2a2a" stroke-width="0.9" fill="none"/>
<path d="M222.40,520.3 L222.40,516.6 L235.60,516.6 L235.60,520.3" stroke="#2a2a2a" stroke-width="0.9" fill="none"/>
<text x="235.45" y="498.60" font-size="9.4" text-anchor="middle" fill="#4a4a4a" >**</text>
<text x="229.00" y="513.80" font-size="9.4" text-anchor="middle" fill="#4a4a4a" >**</text>
<path d="M264.10,505.0 L264.10,501.3 L290.20,501.3 L290.20,505.0" stroke="#2a2a2a" stroke-width="0.9" fill="none"/>
<path d="M264.10,520.3 L264.10,516.6 L277.30,516.6 L277.30,520.3" stroke="#2a2a2a" stroke-width="0.9" fill="none"/>
<text x="277.15" y="498.60" font-size="9.4" text-anchor="middle" fill="#4a4a4a" >*</text>
<text x="270.70" y="514.60" font-size="8.6" text-anchor="middle" textLength="7.9" lengthAdjust="spacingAndGlyphs" fill="#4a4a4a" >ns</text>
<path d="M304.30,505.0 L304.30,501.3 L330.40,501.3 L330.40,505.0" stroke="#2a2a2a" stroke-width="0.9" fill="none"/>
<path d="M304.30,520.3 L304.30,516.6 L317.50,516.6 L317.50,520.3" stroke="#2a2a2a" stroke-width="0.9" fill="none"/>
<text x="317.35" y="499.40" font-size="8.6" text-anchor="middle" textLength="7.9" lengthAdjust="spacingAndGlyphs" fill="#4a4a4a" >ns</text>
<text x="310.90" y="514.60" font-size="8.6" text-anchor="middle" textLength="7.9" lengthAdjust="spacingAndGlyphs" fill="#4a4a4a" >ns</text>
<path d="M346.50,505.0 L346.50,501.3 L372.60,501.3 L372.60,505.0" stroke="#2a2a2a" stroke-width="0.9" fill="none"/>
<path d="M346.50,520.3 L346.50,516.6 L359.70,516.6 L359.70,520.3" stroke="#2a2a2a" stroke-width="0.9" fill="none"/>
<text x="359.55" y="499.40" font-size="8.6" text-anchor="middle" textLength="7.9" lengthAdjust="spacingAndGlyphs" fill="#4a4a4a" >ns</text>
<text x="353.10" y="514.60" font-size="8.6" text-anchor="middle" textLength="7.9" lengthAdjust="spacingAndGlyphs" fill="#4a4a4a" >ns</text>
<text x="402.70" y="601.60" font-size="9.0" font-weight="bold" textLength="27.2" lengthAdjust="spacingAndGlyphs" fill="#1a1a1a" >Group</text>
<g stroke="#4cb748" stroke-width="0.85" fill="none"><line x1="407.45" y1="607.20" x2="407.45" y2="615.70"/><rect x="403.1" y="608.20" width="8.7" height="6.6"/><line x1="403.1" y1="611.50" x2="411.8" y2="611.50"/></g>
<circle cx="407.45" cy="611.30" r="1.5" fill="#4cb748"/>
<text x="416.70" y="613.90" font-size="7.8" textLength="10.3" lengthAdjust="spacingAndGlyphs" fill="#3a3a3a" >HC</text>
<g stroke="#f39c34" stroke-width="0.85" fill="none"><line x1="407.45" y1="618.10" x2="407.45" y2="626.60"/><rect x="403.1" y="619.10" width="8.7" height="6.6"/><line x1="403.1" y1="622.40" x2="411.8" y2="622.40"/></g>
<circle cx="407.45" cy="622.20" r="1.5" fill="#f39c34"/>
<text x="416.70" y="624.80" font-size="7.8" textLength="12.0" lengthAdjust="spacingAndGlyphs" fill="#3a3a3a" >SLE</text>
<g stroke="#f07b5f" stroke-width="0.85" fill="none"><line x1="407.45" y1="628.90" x2="407.45" y2="637.40"/><rect x="403.1" y="629.90" width="8.7" height="6.6"/><line x1="403.1" y1="633.20" x2="411.8" y2="633.20"/></g>
<circle cx="407.45" cy="633.00" r="1.5" fill="#f07b5f"/>
<text x="416.70" y="635.60" font-size="7.8" textLength="9.4" lengthAdjust="spacingAndGlyphs" fill="#3a3a3a" >LN</text>
<text x="455.55" y="484.40" font-size="10.5" font-weight="bold" textLength="6.50" lengthAdjust="spacingAndGlyphs" fill="#111" stroke="#111" stroke-width="0.5">D</text>
<ellipse cx="575.9" cy="569.8" rx="65.3" ry="35.25" transform="rotate(47.5 575.9 569.8)" fill="#f07b5f" fill-opacity="0.14"/>
<ellipse cx="581.5" cy="565.2" rx="76.1" ry="24.0" transform="rotate(55.9 581.5 565.2)" fill="#f39c34" fill-opacity="0.14"/>
<ellipse cx="544.2" cy="598.2" rx="40.4" ry="12.2" transform="rotate(15.6 544.2 598.2)" fill="#4cb748" fill-opacity="0.13"/>
<ellipse cx="575.9" cy="569.8" rx="65.3" ry="35.25" transform="rotate(47.5 575.9 569.8)" fill="none" stroke="#f07b5f" stroke-width="0.9"/>
<ellipse cx="581.5" cy="565.2" rx="76.1" ry="24.0" transform="rotate(55.9 581.5 565.2)" fill="none" stroke="#f39c34" stroke-width="0.9"/>
<ellipse cx="544.2" cy="598.2" rx="40.4" ry="12.2" transform="rotate(15.6 544.2 598.2)" fill="none" stroke="#4cb748" stroke-width="0.9"/>
<circle cx="516.4" cy="586" r="1.5" fill="#4cb748"/>
<circle cx="537.4" cy="599.2" r="1.5" fill="#4cb748"/>
<circle cx="545.3" cy="597.6" r="1.5" fill="#4cb748"/>
<circle cx="542" cy="603.9" r="1.5" fill="#4cb748"/>
<circle cx="554.5" cy="594.3" r="1.5" fill="#4cb748"/>
<circle cx="557.8" cy="601.5" r="1.5" fill="#4cb748"/>
<circle cx="576.3" cy="549.2" r="1.5" fill="#f39c34"/>
<circle cx="574.3" cy="556.8" r="1.5" fill="#f39c34"/>
<circle cx="576.6" cy="565.5" r="1.5" fill="#f39c34"/>
<circle cx="630.8" cy="605" r="1.5" fill="#f39c34"/>
<circle cx="595.5" cy="612.8" r="1.5" fill="#f39c34"/>
<circle cx="573.4" cy="556.0" r="1.5" fill="#f39c34"/>
<circle cx="576.3" cy="554.8" r="1.5" fill="#f07b5f"/>
<circle cx="572.2" cy="556.8" r="1.5" fill="#f07b5f"/>
<circle cx="557.4" cy="562.4" r="1.5" fill="#f07b5f"/>
<circle cx="609.3" cy="586" r="1.5" fill="#f07b5f"/>
<circle cx="587.9" cy="601.8" r="1.5" fill="#f07b5f"/>
<circle cx="574.8" cy="555.4" r="1.5" fill="#f07b5f"/>
<path d="M569.5,580.8 L594.40,575.70 M591.55,574.75 L594.40,575.70 L592.15,577.69" stroke="#4a4a4a" stroke-width="0.75" fill="none"/>
<path d="M569.5,580.8 L576.00,560.40 M573.78,562.42 L576.00,560.40 L576.64,563.33" stroke="#4a4a4a" stroke-width="0.75" fill="none"/>
<path d="M569.5,580.8 L571.50,567.00 M569.64,569.36 L571.50,567.00 L572.61,569.79" stroke="#4a4a4a" stroke-width="0.75" fill="none"/>
<path d="M569.5,580.8 L569.80,571.60 M568.22,574.15 L569.80,571.60 L571.21,574.25" stroke="#4a4a4a" stroke-width="0.75" fill="none"/>
<path d="M569.5,580.8 L567.60,575.00 M566.98,577.94 L567.60,575.00 L569.83,577.00" stroke="#4a4a4a" stroke-width="0.75" fill="none"/>
<path d="M569.5,580.8 L547.40,584.90 M550.23,585.90 L547.40,584.90 L549.68,582.95" stroke="#4a4a4a" stroke-width="0.75" fill="none"/>
<path d="M569.5,580.8 L550.10,592.10 M553.10,592.09 L550.10,592.10 L551.59,589.50" stroke="#4a4a4a" stroke-width="0.75" fill="none"/>
<path d="M569.5,580.8 L588.30,607.00 M588.00,604.01 L588.30,607.00 L585.57,605.76" stroke="#4a4a4a" stroke-width="0.75" fill="none"/>
<text x="588.30" y="574.50" font-size="8.0" textLength="31.3" lengthAdjust="spacingAndGlyphs" fill="#6a6a6a" >Monocyte</text>
<text x="577.70" y="565.40" font-size="8.0" textLength="3.6" lengthAdjust="spacingAndGlyphs" fill="#6a6a6a" >B</text>
<text x="551.50" y="567.60" font-size="8.0" textLength="24.1" lengthAdjust="spacingAndGlyphs" fill="#6a6a6a" >Platelet</text>
<text x="548.00" y="574.80" font-size="8.0" textLength="19.4" lengthAdjust="spacingAndGlyphs" fill="#6a6a6a" >CD8<tspan baseline-shift="super" font-size="70%">+</tspan> T</text>
<text x="546.00" y="581.10" font-size="8.0" textLength="21.4" lengthAdjust="spacingAndGlyphs" fill="#6a6a6a" >CD4<tspan baseline-shift="super" font-size="70%">+</tspan> T</text>
<text x="536.00" y="587.60" font-size="8.0" textLength="11.0" lengthAdjust="spacingAndGlyphs" fill="#6a6a6a" >γδ T</text>
<text x="549.70" y="599.80" font-size="8.0" textLength="8.1" lengthAdjust="spacingAndGlyphs" fill="#6a6a6a" >NK</text>
<text x="588.90" y="608.00" font-size="8.0" textLength="8.8" lengthAdjust="spacingAndGlyphs" fill="#6a6a6a" >DC</text>
<path d="M499.7,493.7 L499.7,636 L637,636" stroke="#2a2a2a" stroke-width="1" fill="none"/>
<line x1="497.6" y1="537.05" x2="499.7" y2="537.05" stroke="#2a2a2a" stroke-width="0.8"/>
<text x="496.40" y="539.95" font-size="8.0" text-anchor="end" fill="#4a4a4a" >0.5</text>
<line x1="497.6" y1="581.00" x2="499.7" y2="581.00" stroke="#2a2a2a" stroke-width="0.8"/>
<text x="496.40" y="583.90" font-size="8.0" text-anchor="end" fill="#4a4a4a" >0.0</text>
<line x1="497.6" y1="624.95" x2="499.7" y2="624.95" stroke="#2a2a2a" stroke-width="0.8"/>
<text x="496.40" y="627.85" font-size="8.0" text-anchor="end" fill="#4a4a4a" >−0.5</text>
<line x1="503.6" y1="636" x2="503.6" y2="638.2" stroke="#2a2a2a" stroke-width="0.8"/>
<text x="504.60" y="644.90" font-size="8.0" text-anchor="middle" fill="#4a4a4a" >−0.6</text>
<line x1="536.6" y1="636" x2="536.6" y2="638.2" stroke="#2a2a2a" stroke-width="0.8"/>
<text x="537.60" y="644.90" font-size="8.0" text-anchor="middle" fill="#4a4a4a" >−0.3</text>
<line x1="569.6" y1="636" x2="569.6" y2="638.2" stroke="#2a2a2a" stroke-width="0.8"/>
<text x="570.20" y="644.90" font-size="8.0" text-anchor="middle" fill="#4a4a4a" >0.0</text>
<line x1="602.4" y1="636" x2="602.4" y2="638.2" stroke="#2a2a2a" stroke-width="0.8"/>
<text x="603.00" y="644.90" font-size="8.0" text-anchor="middle" fill="#4a4a4a" >0.3</text>
<line x1="636.1" y1="636" x2="636.1" y2="638.2" stroke="#2a2a2a" stroke-width="0.8"/>
<text x="636.70" y="644.90" font-size="8.0" text-anchor="middle" fill="#4a4a4a" >0.6</text>
<text x="580.00" y="657.30" font-size="9.0" font-weight="bold" text-anchor="middle" textLength="57.9" lengthAdjust="spacingAndGlyphs" fill="#1a1a1a" >PC1 (45.24%)</text>
<text transform="translate(477.00,575.50) rotate(-90)" x="0" y="0" font-size="9.0" font-weight="bold" text-anchor="middle" textLength="58.7" lengthAdjust="spacingAndGlyphs" fill="#1a1a1a" >PC2 (30.22%)</text>
<text x="657.80" y="605.10" font-size="9.0" font-weight="bold" textLength="27.5" lengthAdjust="spacingAndGlyphs" fill="#1a1a1a" >Group</text>
<circle cx="662" cy="613.9" r="2.0" fill="#4cb748"/>
<text x="670.50" y="616.60" font-size="7.8" textLength="10.3" lengthAdjust="spacingAndGlyphs" fill="#3a3a3a" >HC</text>
<circle cx="662" cy="624.4" r="2.0" fill="#f39c34"/>
<text x="670.50" y="627.10" font-size="7.8" textLength="12.0" lengthAdjust="spacingAndGlyphs" fill="#3a3a3a" >SLE</text>
<circle cx="662" cy="634.9" r="2.0" fill="#f07b5f"/>
<text x="670.50" y="637.60" font-size="7.8" textLength="9.4" lengthAdjust="spacingAndGlyphs" fill="#3a3a3a" >LN</text>
<text x="-1.55" y="690.80" font-size="10.5" font-weight="bold" textLength="6.10" lengthAdjust="spacingAndGlyphs" fill="#111" stroke="#111" stroke-width="0.5">E</text>
<rect x="50.20" y="843.31" width="24.8" height="1.23" fill="#c59fc9"/>
<rect x="50.20" y="844.42" width="24.8" height="2.71" fill="#b07db4"/>
<rect x="50.20" y="847.01" width="24.8" height="14.76" fill="#a4cfe3"/>
<rect x="50.20" y="861.65" width="24.8" height="15.31" fill="#45c2ef"/>
<rect x="50.20" y="876.85" width="24.8" height="4.57" fill="#7ea2d3"/>
<rect x="50.20" y="881.29" width="24.8" height="5.49" fill="#6689c5"/>
<rect x="50.20" y="886.67" width="24.8" height="6.42" fill="#4d6db3"/>
<rect x="50.20" y="892.97" width="24.8" height="7.35" fill="#435d9b"/>
<rect x="50.20" y="900.19" width="24.8" height="4.01" fill="#6ec8b8"/>
<rect x="50.20" y="904.08" width="24.8" height="1.23" fill="#3f8a46"/>
<rect x="50.20" y="905.20" width="24.8" height="10.87" fill="#9bc24b"/>
<rect x="50.20" y="915.94" width="24.8" height="0.68" fill="#f4894a"/>
<rect x="85.20" y="795.50" width="24.8" height="7.35" fill="#c59fc9"/>
<rect x="85.20" y="802.73" width="24.8" height="6.42" fill="#a391c4"/>
<rect x="85.20" y="809.03" width="24.8" height="4.20" fill="#b07db4"/>
<rect x="85.20" y="813.10" width="24.8" height="19.21" fill="#a4cfe3"/>
<rect x="85.20" y="832.19" width="24.8" height="8.46" fill="#6fcbd6"/>
<rect x="85.20" y="840.53" width="24.8" height="20.87" fill="#45c2ef"/>
<rect x="85.20" y="861.28" width="24.8" height="28.84" fill="#6689c5"/>
<rect x="85.20" y="890.00" width="24.8" height="5.12" fill="#4d6db3"/>
<rect x="85.20" y="895.01" width="24.8" height="10.13" fill="#435d9b"/>
<rect x="85.20" y="905.01" width="24.8" height="1.23" fill="#6ec8b8"/>
<rect x="85.20" y="906.12" width="24.8" height="1.05" fill="#3f8a46"/>
<rect x="85.20" y="907.05" width="24.8" height="4.38" fill="#9bc24b"/>
<rect x="85.20" y="911.31" width="24.8" height="3.27" fill="#f4894a"/>
<rect x="85.20" y="914.46" width="24.8" height="0.86" fill="#eca133"/>
<rect x="85.20" y="915.20" width="24.8" height="1.42" fill="#e27c86"/>
<rect x="120.30" y="894.63" width="24.8" height="0.68" fill="#c59fc9"/>
<rect x="120.30" y="895.19" width="24.8" height="1.97" fill="#b07db4"/>
<rect x="120.30" y="897.04" width="24.8" height="2.34" fill="#a4cfe3"/>
<rect x="120.30" y="899.27" width="24.8" height="1.42" fill="#6fcbd6"/>
<rect x="120.30" y="900.56" width="24.8" height="3.64" fill="#45c2ef"/>
<rect x="120.30" y="904.08" width="24.8" height="6.98" fill="#6689c5"/>
<rect x="120.30" y="910.94" width="24.8" height="1.97" fill="#4d6db3"/>
<rect x="120.30" y="912.79" width="24.8" height="2.16" fill="#435d9b"/>
<rect x="120.30" y="914.83" width="24.8" height="0.86" fill="#6ec8b8"/>
<rect x="120.30" y="915.57" width="24.8" height="0.31" fill="#9bc24b"/>
<rect x="120.30" y="915.76" width="24.8" height="0.49" fill="#f4894a"/>
<rect x="120.30" y="916.13" width="24.8" height="0.49" fill="#eca133"/>
<path d="M41.70,722.4 L41.70,926 L153.60,926" stroke="#2a2a2a" stroke-width="1" fill="none"/>
<line x1="39.70" y1="731.20" x2="41.70" y2="731.20" stroke="#2a2a2a" stroke-width="0.8"/>
<text x="38.80" y="734.20" font-size="8.3" text-anchor="end" textLength="14.9" lengthAdjust="spacingAndGlyphs" fill="#444" >1.00</text>
<line x1="39.70" y1="777.52" x2="41.70" y2="777.52" stroke="#2a2a2a" stroke-width="0.8"/>
<text x="38.80" y="780.52" font-size="8.3" text-anchor="end" textLength="14.9" lengthAdjust="spacingAndGlyphs" fill="#444" >0.75</text>
<line x1="39.70" y1="823.85" x2="41.70" y2="823.85" stroke="#2a2a2a" stroke-width="0.8"/>
<text x="38.80" y="826.85" font-size="8.3" text-anchor="end" textLength="14.9" lengthAdjust="spacingAndGlyphs" fill="#444" >0.50</text>
<line x1="39.70" y1="870.17" x2="41.70" y2="870.17" stroke="#2a2a2a" stroke-width="0.8"/>
<text x="38.80" y="873.17" font-size="8.3" text-anchor="end" textLength="14.9" lengthAdjust="spacingAndGlyphs" fill="#444" >0.25</text>
<line x1="39.70" y1="916.50" x2="41.70" y2="916.50" stroke="#2a2a2a" stroke-width="0.8"/>
<text x="38.80" y="919.50" font-size="8.3" text-anchor="end" textLength="14.9" lengthAdjust="spacingAndGlyphs" fill="#444" >0.00</text>
<line x1="62.60" y1="926" x2="62.60" y2="927.8" stroke="#2a2a2a" stroke-width="0.8"/>
<text transform="translate(69.10,933.00) rotate(-45)" x="0" y="0" font-size="8.0" text-anchor="end" fill="#444" >HC</text>
<line x1="97.60" y1="926" x2="97.60" y2="927.8" stroke="#2a2a2a" stroke-width="0.8"/>
<text transform="translate(104.10,933.00) rotate(-45)" x="0" y="0" font-size="8.0" text-anchor="end" fill="#444" >SLE</text>
<line x1="132.70" y1="926" x2="132.70" y2="927.8" stroke="#2a2a2a" stroke-width="0.8"/>
<text transform="translate(139.20,933.00) rotate(-45)" x="0" y="0" font-size="8.0" text-anchor="end" fill="#444" >LN</text>
<text x="41.60" y="717.90" font-size="8.6" font-weight="bold" textLength="60.7" lengthAdjust="spacingAndGlyphs" fill="#1a1a1a" >rs1128334 ETS1</text>
<rect x="189.05" y="883.52" width="24.8" height="30.51" fill="#b07db4"/>
<rect x="189.05" y="913.91" width="24.8" height="2.71" fill="#7550a6"/>
<rect x="224.05" y="803.65" width="24.8" height="12.72" fill="#c59fc9"/>
<rect x="224.05" y="816.25" width="24.8" height="15.87" fill="#a391c4"/>
<rect x="224.05" y="832.00" width="24.8" height="63.12" fill="#b07db4"/>
<rect x="224.05" y="895.01" width="24.8" height="9.20" fill="#7550a6"/>
<rect x="224.05" y="904.08" width="24.8" height="7.16" fill="#6689c5"/>
<rect x="224.05" y="911.13" width="24.8" height="2.34" fill="#435d9b"/>
<rect x="224.05" y="913.35" width="24.8" height="3.27" fill="#eca133"/>
<rect x="259.15" y="823.11" width="24.8" height="4.01" fill="#c59fc9"/>
<rect x="259.15" y="827.00" width="24.8" height="4.20" fill="#a391c4"/>
<rect x="259.15" y="831.08" width="24.8" height="72.02" fill="#b07db4"/>
<rect x="259.15" y="902.97" width="24.8" height="13.65" fill="#7550a6"/>
<path d="M180.55,722.4 L180.55,926 L292.45,926" stroke="#2a2a2a" stroke-width="1" fill="none"/>
<line x1="178.55" y1="731.20" x2="180.55" y2="731.20" stroke="#2a2a2a" stroke-width="0.8"/>
<text x="177.65" y="734.20" font-size="8.3" text-anchor="end" textLength="14.9" lengthAdjust="spacingAndGlyphs" fill="#444" >1.00</text>
<line x1="178.55" y1="777.52" x2="180.55" y2="777.52" stroke="#2a2a2a" stroke-width="0.8"/>
<text x="177.65" y="780.52" font-size="8.3" text-anchor="end" textLength="14.9" lengthAdjust="spacingAndGlyphs" fill="#444" >0.75</text>
<line x1="178.55" y1="823.85" x2="180.55" y2="823.85" stroke="#2a2a2a" stroke-width="0.8"/>
<text x="177.65" y="826.85" font-size="8.3" text-anchor="end" textLength="14.9" lengthAdjust="spacingAndGlyphs" fill="#444" >0.50</text>
<line x1="178.55" y1="870.17" x2="180.55" y2="870.17" stroke="#2a2a2a" stroke-width="0.8"/>
<text x="177.65" y="873.17" font-size="8.3" text-anchor="end" textLength="14.9" lengthAdjust="spacingAndGlyphs" fill="#444" >0.25</text>
<line x1="178.55" y1="916.50" x2="180.55" y2="916.50" stroke="#2a2a2a" stroke-width="0.8"/>
<text x="177.65" y="919.50" font-size="8.3" text-anchor="end" textLength="14.9" lengthAdjust="spacingAndGlyphs" fill="#444" >0.00</text>
<line x1="201.45" y1="926" x2="201.45" y2="927.8" stroke="#2a2a2a" stroke-width="0.8"/>
<text transform="translate(207.95,933.00) rotate(-45)" x="0" y="0" font-size="8.0" text-anchor="end" fill="#444" >HC</text>
<line x1="236.45" y1="926" x2="236.45" y2="927.8" stroke="#2a2a2a" stroke-width="0.8"/>
<text transform="translate(242.95,933.00) rotate(-45)" x="0" y="0" font-size="8.0" text-anchor="end" fill="#444" >SLE</text>
<line x1="271.55" y1="926" x2="271.55" y2="927.8" stroke="#2a2a2a" stroke-width="0.8"/>
<text transform="translate(278.05,933.00) rotate(-45)" x="0" y="0" font-size="8.0" text-anchor="end" fill="#444" >LN</text>
<text x="180.45" y="717.90" font-size="8.6" font-weight="bold" textLength="91.2" lengthAdjust="spacingAndGlyphs" fill="#1a1a1a" >rs34562254 TNFRSF13B</text>
<rect x="327.90" y="841.82" width="24.8" height="4.01" fill="#c59fc9"/>
<rect x="327.90" y="845.72" width="24.8" height="8.27" fill="#b07db4"/>
<rect x="327.90" y="853.87" width="24.8" height="11.98" fill="#45c2ef"/>
<rect x="327.90" y="865.73" width="24.8" height="3.83" fill="#6689c5"/>
<rect x="327.90" y="869.43" width="24.8" height="16.24" fill="#4d6db3"/>
<rect x="327.90" y="885.55" width="24.8" height="7.53" fill="#435d9b"/>
<rect x="327.90" y="892.97" width="24.8" height="12.16" fill="#9bc24b"/>
<rect x="327.90" y="905.01" width="24.8" height="11.61" fill="#f4894a"/>
<rect x="362.90" y="875.73" width="24.8" height="1.49" fill="#b07db4"/>
<rect x="362.90" y="877.11" width="24.8" height="4.01" fill="#a4cfe3"/>
<rect x="362.90" y="881.00" width="24.8" height="3.38" fill="#45c2ef"/>
<rect x="362.90" y="884.26" width="24.8" height="3.83" fill="#6689c5"/>
<rect x="362.90" y="887.96" width="24.8" height="5.12" fill="#435d9b"/>
<rect x="362.90" y="892.97" width="24.8" height="3.27" fill="#9bc24b"/>
<rect x="362.90" y="896.12" width="24.8" height="10.20" fill="#f4894a"/>
<rect x="362.90" y="906.20" width="24.8" height="7.09" fill="#eca133"/>
<rect x="362.90" y="913.16" width="24.8" height="3.46" fill="#e27c86"/>
<rect x="398.00" y="767.15" width="24.8" height="1.23" fill="#c59fc9"/>
<rect x="398.00" y="768.26" width="24.8" height="4.57" fill="#a391c4"/>
<rect x="398.00" y="772.71" width="24.8" height="4.38" fill="#b07db4"/>
<rect x="398.00" y="776.97" width="24.8" height="3.83" fill="#a4cfe3"/>
<rect x="398.00" y="780.68" width="24.8" height="14.76" fill="#45c2ef"/>
<rect x="398.00" y="795.31" width="24.8" height="1.23" fill="#7ea2d3"/>
<rect x="398.00" y="796.43" width="24.8" height="11.61" fill="#6689c5"/>
<rect x="398.00" y="807.91" width="24.8" height="4.01" fill="#4d6db3"/>
<rect x="398.00" y="811.81" width="24.8" height="9.20" fill="#435d9b"/>
<rect x="398.00" y="820.89" width="24.8" height="1.97" fill="#6ec8b8"/>
<rect x="398.00" y="822.74" width="24.8" height="5.31" fill="#3f8a46"/>
<rect x="398.00" y="827.93" width="24.8" height="3.27" fill="#9bc24b"/>
<rect x="398.00" y="831.08" width="24.8" height="31.81" fill="#f4894a"/>
<rect x="398.00" y="862.76" width="24.8" height="38.66" fill="#eca133"/>
<rect x="398.00" y="901.31" width="24.8" height="13.46" fill="#d6a07d"/>
<rect x="398.00" y="914.65" width="24.8" height="1.97" fill="#e27c86"/>
<path d="M319.40,722.4 L319.40,926 L431.30,926" stroke="#2a2a2a" stroke-width="1" fill="none"/>
<line x1="317.40" y1="731.20" x2="319.40" y2="731.20" stroke="#2a2a2a" stroke-width="0.8"/>
<text x="316.50" y="734.20" font-size="8.3" text-anchor="end" textLength="14.9" lengthAdjust="spacingAndGlyphs" fill="#444" >1.00</text>
<line x1="317.40" y1="777.52" x2="319.40" y2="777.52" stroke="#2a2a2a" stroke-width="0.8"/>
<text x="316.50" y="780.52" font-size="8.3" text-anchor="end" textLength="14.9" lengthAdjust="spacingAndGlyphs" fill="#444" >0.75</text>
<line x1="317.40" y1="823.85" x2="319.40" y2="823.85" stroke="#2a2a2a" stroke-width="0.8"/>
<text x="316.50" y="826.85" font-size="8.3" text-anchor="end" textLength="14.9" lengthAdjust="spacingAndGlyphs" fill="#444" >0.50</text>
<line x1="317.40" y1="870.17" x2="319.40" y2="870.17" stroke="#2a2a2a" stroke-width="0.8"/>
<text x="316.50" y="873.17" font-size="8.3" text-anchor="end" textLength="14.9" lengthAdjust="spacingAndGlyphs" fill="#444" >0.25</text>
<line x1="317.40" y1="916.50" x2="319.40" y2="916.50" stroke="#2a2a2a" stroke-width="0.8"/>
<text x="316.50" y="919.50" font-size="8.3" text-anchor="end" textLength="14.9" lengthAdjust="spacingAndGlyphs" fill="#444" >0.00</text>
<line x1="340.30" y1="926" x2="340.30" y2="927.8" stroke="#2a2a2a" stroke-width="0.8"/>
<text transform="translate(346.80,933.00) rotate(-45)" x="0" y="0" font-size="8.0" text-anchor="end" fill="#444" >HC</text>
<line x1="375.30" y1="926" x2="375.30" y2="927.8" stroke="#2a2a2a" stroke-width="0.8"/>
<text transform="translate(381.80,933.00) rotate(-45)" x="0" y="0" font-size="8.0" text-anchor="end" fill="#444" >SLE</text>
<line x1="410.40" y1="926" x2="410.40" y2="927.8" stroke="#2a2a2a" stroke-width="0.8"/>
<text transform="translate(416.90,933.00) rotate(-45)" x="0" y="0" font-size="8.0" text-anchor="end" fill="#444" >LN</text>
<text x="319.30" y="717.90" font-size="8.6" font-weight="bold" textLength="61.7" lengthAdjust="spacingAndGlyphs" fill="#1a1a1a" >rs2304256 TYK2</text>
<rect x="466.75" y="837.19" width="24.8" height="3.64" fill="#c59fc9"/>
<rect x="466.75" y="840.71" width="24.8" height="3.27" fill="#a391c4"/>
<rect x="466.75" y="843.86" width="24.8" height="8.83" fill="#b07db4"/>
<rect x="466.75" y="852.57" width="24.8" height="5.31" fill="#a4cfe3"/>
<rect x="466.75" y="857.76" width="24.8" height="12.35" fill="#45c2ef"/>
<rect x="466.75" y="869.99" width="24.8" height="1.05" fill="#7ea2d3"/>
<rect x="466.75" y="870.92" width="24.8" height="3.64" fill="#6689c5"/>
<rect x="466.75" y="874.44" width="24.8" height="3.64" fill="#4d6db3"/>
<rect x="466.75" y="877.96" width="24.8" height="9.20" fill="#435d9b"/>
<rect x="466.75" y="887.04" width="24.8" height="2.16" fill="#6ec8b8"/>
<rect x="466.75" y="889.08" width="24.8" height="1.23" fill="#3f8a46"/>
<rect x="466.75" y="890.19" width="24.8" height="13.46" fill="#9bc24b"/>
<rect x="466.75" y="903.53" width="24.8" height="3.83" fill="#f4894a"/>
<rect x="466.75" y="907.24" width="24.8" height="7.90" fill="#eca133"/>
<rect x="466.75" y="915.02" width="24.8" height="1.60" fill="#d6a07d"/>
<rect x="501.75" y="874.99" width="24.8" height="3.08" fill="#b07db4"/>
<rect x="501.75" y="877.96" width="24.8" height="4.01" fill="#a4cfe3"/>
<rect x="501.75" y="881.85" width="24.8" height="2.34" fill="#45c2ef"/>
<rect x="501.75" y="884.07" width="24.8" height="5.31" fill="#6689c5"/>
<rect x="501.75" y="889.26" width="24.8" height="1.79" fill="#435d9b"/>
<rect x="501.75" y="890.93" width="24.8" height="2.16" fill="#6ec8b8"/>
<rect x="501.75" y="892.97" width="24.8" height="10.68" fill="#f4894a"/>
<rect x="501.75" y="903.53" width="24.8" height="9.57" fill="#eca133"/>
<rect x="501.75" y="912.98" width="24.8" height="3.64" fill="#e27c86"/>
<rect x="536.85" y="786.98" width="24.8" height="3.83" fill="#b07db4"/>
<rect x="536.85" y="790.68" width="24.8" height="5.49" fill="#a4cfe3"/>
<rect x="536.85" y="796.05" width="24.8" height="1.79" fill="#6fcbd6"/>
<rect x="536.85" y="797.72" width="24.8" height="11.79" fill="#45c2ef"/>
<rect x="536.85" y="809.40" width="24.8" height="2.71" fill="#7ea2d3"/>
<rect x="536.85" y="811.99" width="24.8" height="9.38" fill="#6689c5"/>
<rect x="536.85" y="821.26" width="24.8" height="10.87" fill="#435d9b"/>
<rect x="536.85" y="832.00" width="24.8" height="1.05" fill="#6ec8b8"/>
<rect x="536.85" y="832.93" width="24.8" height="1.05" fill="#3f8a46"/>
<rect x="536.85" y="833.86" width="24.8" height="1.97" fill="#9bc24b"/>
<rect x="536.85" y="835.71" width="24.8" height="47.19" fill="#f4894a"/>
<rect x="536.85" y="882.78" width="24.8" height="26.62" fill="#eca133"/>
<rect x="536.85" y="909.27" width="24.8" height="6.05" fill="#d6a07d"/>
<rect x="536.85" y="915.20" width="24.8" height="1.42" fill="#e27c86"/>
<path d="M458.25,722.4 L458.25,926 L570.15,926" stroke="#2a2a2a" stroke-width="1" fill="none"/>
<line x1="456.25" y1="731.20" x2="458.25" y2="731.20" stroke="#2a2a2a" stroke-width="0.8"/>
<text x="455.35" y="734.20" font-size="8.3" text-anchor="end" textLength="14.9" lengthAdjust="spacingAndGlyphs" fill="#444" >1.00</text>
<line x1="456.25" y1="777.52" x2="458.25" y2="777.52" stroke="#2a2a2a" stroke-width="0.8"/>
<text x="455.35" y="780.52" font-size="8.3" text-anchor="end" textLength="14.9" lengthAdjust="spacingAndGlyphs" fill="#444" >0.75</text>
<line x1="456.25" y1="823.85" x2="458.25" y2="823.85" stroke="#2a2a2a" stroke-width="0.8"/>
<text x="455.35" y="826.85" font-size="8.3" text-anchor="end" textLength="14.9" lengthAdjust="spacingAndGlyphs" fill="#444" >0.50</text>
<line x1="456.25" y1="870.17" x2="458.25" y2="870.17" stroke="#2a2a2a" stroke-width="0.8"/>
<text x="455.35" y="873.17" font-size="8.3" text-anchor="end" textLength="14.9" lengthAdjust="spacingAndGlyphs" fill="#444" >0.25</text>
<line x1="456.25" y1="916.50" x2="458.25" y2="916.50" stroke="#2a2a2a" stroke-width="0.8"/>
<text x="455.35" y="919.50" font-size="8.3" text-anchor="end" textLength="14.9" lengthAdjust="spacingAndGlyphs" fill="#444" >0.00</text>
<line x1="479.15" y1="926" x2="479.15" y2="927.8" stroke="#2a2a2a" stroke-width="0.8"/>
<text transform="translate(485.65,933.00) rotate(-45)" x="0" y="0" font-size="8.0" text-anchor="end" fill="#444" >HC</text>
<line x1="514.15" y1="926" x2="514.15" y2="927.8" stroke="#2a2a2a" stroke-width="0.8"/>
<text transform="translate(520.65,933.00) rotate(-45)" x="0" y="0" font-size="8.0" text-anchor="end" fill="#444" >SLE</text>
<line x1="549.25" y1="926" x2="549.25" y2="927.8" stroke="#2a2a2a" stroke-width="0.8"/>
<text transform="translate(555.75,933.00) rotate(-45)" x="0" y="0" font-size="8.0" text-anchor="end" fill="#444" >LN</text>
<text x="458.15" y="717.90" font-size="8.6" font-weight="bold" textLength="57.2" lengthAdjust="spacingAndGlyphs" fill="#1a1a1a" >rs7444 UBE2L3</text>
<text transform="translate(17.60,819.30) rotate(-90)" x="0" y="0" font-size="8.6" font-weight="bold" text-anchor="middle" textLength="77.0" lengthAdjust="spacingAndGlyphs" fill="#1a1a1a" >Mutation Frequency</text>
<text x="593.50" y="715.00" font-size="8.6" font-weight="bold" textLength="33.8" lengthAdjust="spacingAndGlyphs" fill="#1a1a1a" >Cell Type</text>
<rect x="593.5" y="719.70" width="10.3" height="10.0" fill="#c59fc9"/>
<text x="607.70" y="728.00" font-size="8.4" textLength="48.9" lengthAdjust="spacingAndGlyphs" fill="#2a2a2a" >IGKC<tspan baseline-shift="super" font-size="70%">+</tspan> Naive B</text>
<rect x="593.5" y="730.63" width="10.3" height="10.0" fill="#a391c4"/>
<text x="607.70" y="738.93" font-size="8.4" textLength="54.3" lengthAdjust="spacingAndGlyphs" fill="#2a2a2a" >IGLC2<tspan baseline-shift="super" font-size="70%">+</tspan>  Naive B</text>
<rect x="593.5" y="741.56" width="10.3" height="10.0" fill="#b07db4"/>
<text x="607.70" y="749.86" font-size="8.4" textLength="37.2" lengthAdjust="spacingAndGlyphs" fill="#2a2a2a" >Memory B</text>
<rect x="593.5" y="752.49" width="10.3" height="10.0" fill="#7550a6"/>
<text x="607.70" y="760.79" font-size="8.4" textLength="29.2" lengthAdjust="spacingAndGlyphs" fill="#2a2a2a" >Active B</text>
<rect x="593.5" y="763.42" width="10.3" height="10.0" fill="#a4cfe3"/>
<text x="607.70" y="771.72" font-size="8.4" textLength="45.3" lengthAdjust="spacingAndGlyphs" fill="#2a2a2a" >CD4<tspan baseline-shift="super" font-size="70%">+</tspan> naive T</text>
<rect x="593.5" y="774.35" width="10.3" height="10.0" fill="#6fcbd6"/>
<text x="607.70" y="782.65" font-size="8.4" textLength="15.5" lengthAdjust="spacingAndGlyphs" fill="#2a2a2a" >Treg</text>
<rect x="593.5" y="785.28" width="10.3" height="10.0" fill="#45c2ef"/>
<text x="607.70" y="793.58" font-size="8.4" textLength="56.7" lengthAdjust="spacingAndGlyphs" fill="#2a2a2a" >CD4<tspan baseline-shift="super" font-size="70%">+</tspan> memory T</text>
<rect x="593.5" y="796.21" width="10.3" height="10.0" fill="#7ea2d3"/>
<text x="607.70" y="804.51" font-size="8.4" textLength="53.7" lengthAdjust="spacingAndGlyphs" fill="#2a2a2a" >CD4<tspan baseline-shift="super" font-size="70%">+</tspan> effector T</text>
<rect x="593.5" y="807.14" width="10.3" height="10.0" fill="#6689c5"/>
<text x="607.70" y="815.44" font-size="8.4" textLength="45.3" lengthAdjust="spacingAndGlyphs" fill="#2a2a2a" >CD8<tspan baseline-shift="super" font-size="70%">+</tspan> naive T</text>
<rect x="593.5" y="818.07" width="10.3" height="10.0" fill="#4d6db3"/>
<text x="607.70" y="826.37" font-size="8.4" textLength="56.7" lengthAdjust="spacingAndGlyphs" fill="#2a2a2a" >CD8<tspan baseline-shift="super" font-size="70%">+</tspan> memory T</text>
<rect x="593.5" y="829.00" width="10.3" height="10.0" fill="#435d9b"/>
<text x="607.70" y="837.30" font-size="8.4" textLength="53.7" lengthAdjust="spacingAndGlyphs" fill="#2a2a2a" >CD8<tspan baseline-shift="super" font-size="70%">+</tspan> effector T</text>
<rect x="593.5" y="839.93" width="10.3" height="10.0" fill="#6ec8b8"/>
<text x="607.70" y="848.23" font-size="8.4" textLength="14.1" lengthAdjust="spacingAndGlyphs" fill="#2a2a2a" >γδ T</text>
<rect x="593.5" y="850.86" width="10.3" height="10.0" fill="#3f8a46"/>
<text x="607.70" y="859.16" font-size="8.4" textLength="34.7" lengthAdjust="spacingAndGlyphs" fill="#2a2a2a" >CD56<tspan baseline-shift="super" font-size="70%">+</tspan> NK</text>
<rect x="593.5" y="861.79" width="10.3" height="10.0" fill="#9bc24b"/>
<text x="607.70" y="870.09" font-size="8.4" textLength="34.7" lengthAdjust="spacingAndGlyphs" fill="#2a2a2a" >CD16<tspan baseline-shift="super" font-size="70%">+</tspan> NK</text>
<rect x="593.5" y="872.72" width="10.3" height="10.0" fill="#f4894a"/>
<text x="607.70" y="881.02" font-size="8.4" textLength="53.3" lengthAdjust="spacingAndGlyphs" fill="#2a2a2a" >Classical Mono</text>
<rect x="593.5" y="883.65" width="10.3" height="10.0" fill="#eca133"/>
<text x="607.70" y="891.95" font-size="8.4" textLength="69.9" lengthAdjust="spacingAndGlyphs" fill="#2a2a2a" >Intermediate Mono</text>
<rect x="593.5" y="894.58" width="10.3" height="10.0" fill="#d6a07d"/>
<text x="607.70" y="902.88" font-size="8.4" textLength="72.4" lengthAdjust="spacingAndGlyphs" fill="#2a2a2a" >Non−classical Mono</text>
<rect x="593.5" y="905.51" width="10.3" height="10.0" fill="#946b6c"/>
<text x="607.70" y="913.81" font-size="8.4" textLength="10.6" lengthAdjust="spacingAndGlyphs" fill="#2a2a2a" >DC</text>
<rect x="593.5" y="916.44" width="10.3" height="10.0" fill="#e27c86"/>
<text x="607.70" y="924.74" font-size="8.4" textLength="26.9" lengthAdjust="spacingAndGlyphs" fill="#2a2a2a" >Platelet</text>
</svg></body></html>
